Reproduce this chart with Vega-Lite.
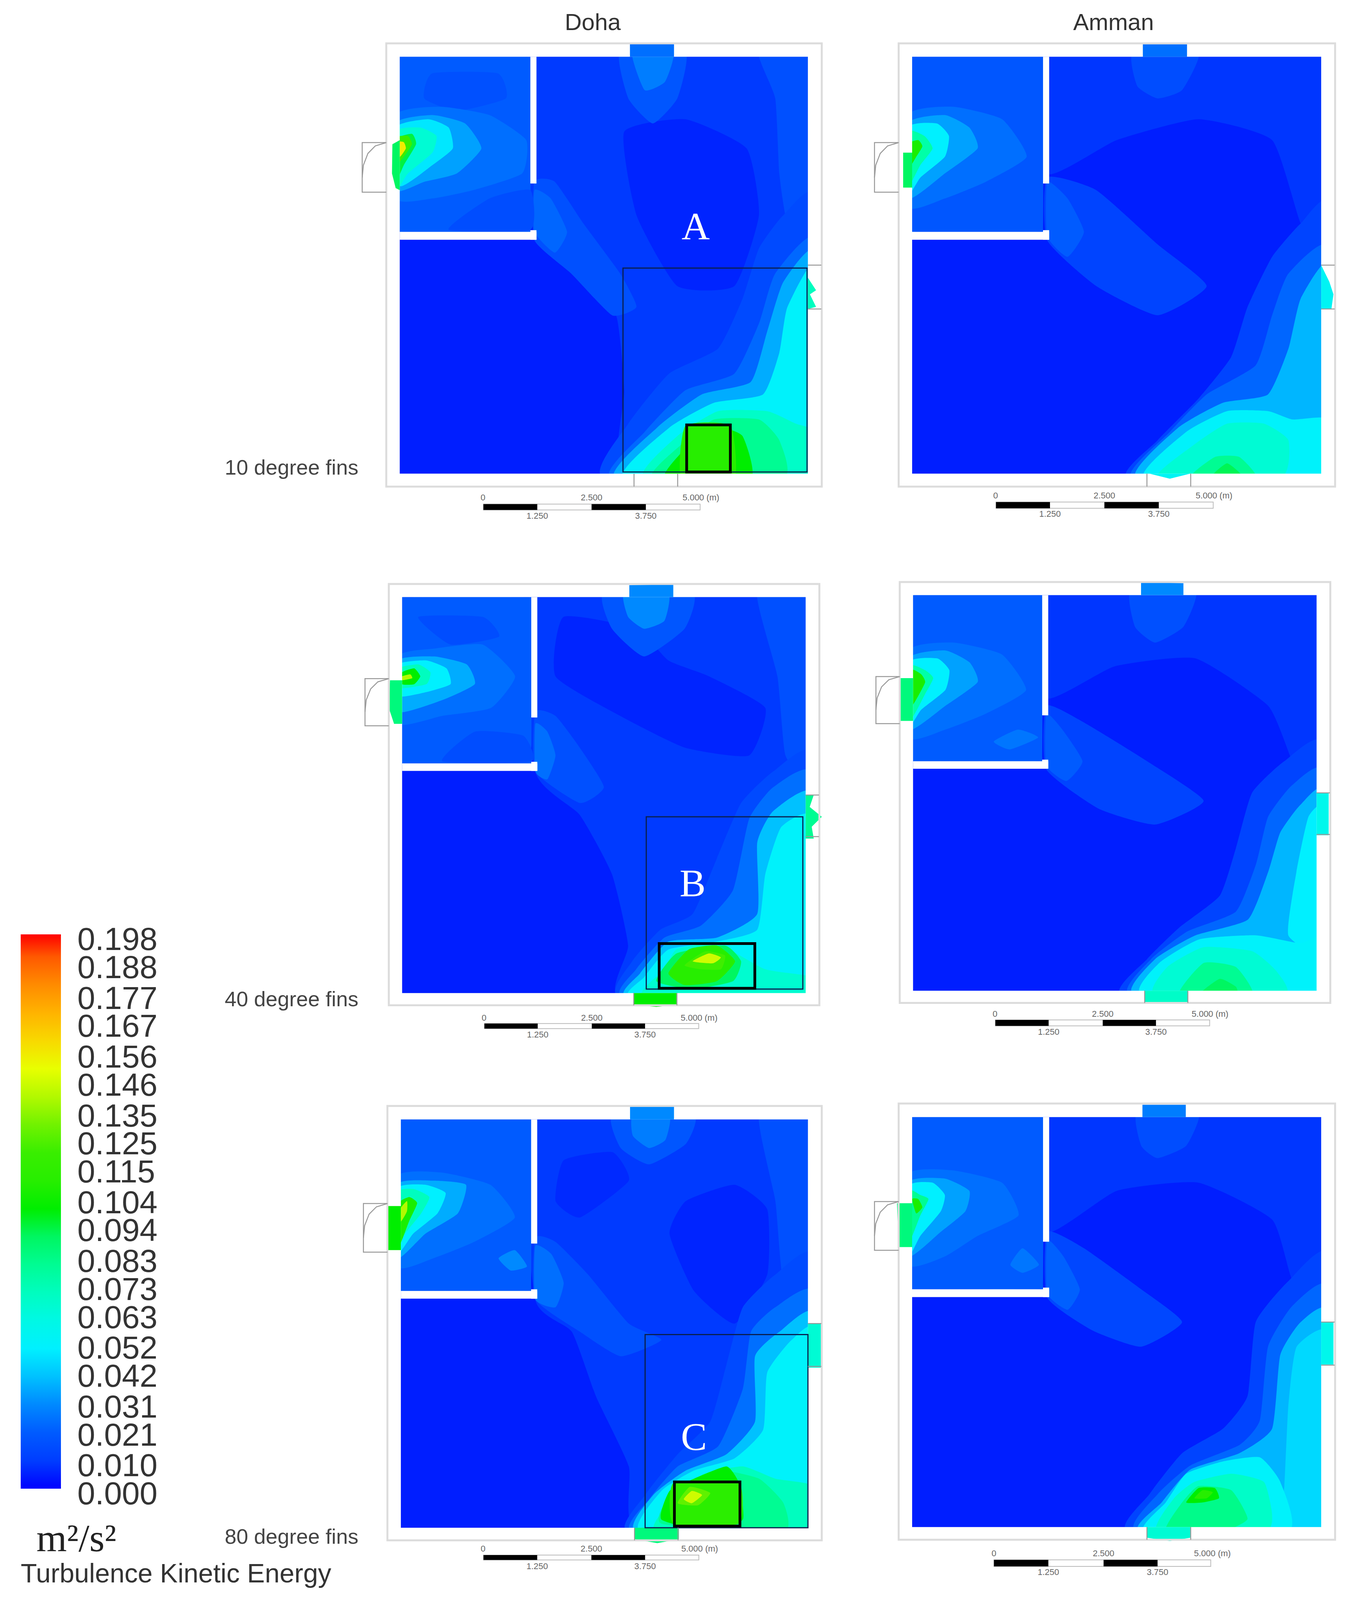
{"$schema":"https://vega.github.io/schema/vega-lite/v6.json","background":"white","padding":{"left":53,"top":28,"right":10,"bottom":10},"config":{"view":{"stroke":null},"concat":{"spacing":121}},
"datasets":{
"parts":[
{"k":"mask","x":-15,"x2":0,"y":-20,"y2":110},{"k":"mask","x":100,"x2":110,"y":-20,"y2":110},{"k":"mask","x":-15,"x2":110,"y":100,"y2":110},{"k":"mask","x":-15,"x2":110,"y":-20,"y2":0},{"k":"mask","x":32,"x2":33.5,"y":69.6,"y2":100},{"k":"mask","x":0,"x2":33.5,"y":56.1,"y2":58},{"k":"mask","x":32,"x2":33.5,"y":56.1,"y2":58.4},
{"k":"frame","x":-3.3,"x2":103.4,"y":-3.1,"y2":103.3},
{"k":"barw","p":"D1","x":20.5,"x2":73.6,"y":-7.3,"y2":-8.7},{"k":"barb","p":"D1","x":20.5,"x2":33.7,"y":-7.3,"y2":-8.7},{"k":"barb","p":"D1","x":47,"x2":60.3,"y":-7.3,"y2":-8.7},
{"k":"barw","p":"A1","x":20.5,"x2":73.6,"y":-6.8,"y2":-8.3},{"k":"barb","p":"A1","x":20.5,"x2":33.7,"y":-6.8,"y2":-8.3},{"k":"barb","p":"A1","x":47,"x2":60.3,"y":-6.8,"y2":-8.3},
{"k":"barw","p":"D2","x":20.4,"x2":73.5,"y":-7.7,"y2":-9},{"k":"barb","p":"D2","x":20.4,"x2":33.6,"y":-7.7,"y2":-9},{"k":"barb","p":"D2","x":47,"x2":60.2,"y":-7.7,"y2":-9},
{"k":"barw","p":"A2","x":20.4,"x2":73.5,"y":-7.4,"y2":-8.9},{"k":"barb","p":"A2","x":20.4,"x2":33.6,"y":-7.4,"y2":-8.9},{"k":"barb","p":"A2","x":47,"x2":60.2,"y":-7.4,"y2":-8.9},
{"k":"barw","p":"D3","x":20.3,"x2":73.2,"y":-6.7,"y2":-7.9},{"k":"barb","p":"D3","x":20.3,"x2":33.5,"y":-6.7,"y2":-7.9},{"k":"barb","p":"D3","x":46.8,"x2":60,"y":-6.7,"y2":-7.9},
{"k":"barw","p":"A3","x":20,"x2":73,"y":-8,"y2":-9.6},{"k":"barb","p":"A3","x":20,"x2":33.3,"y":-8,"y2":-9.6},{"k":"barb","p":"A3","x":46.8,"x2":60,"y":-8,"y2":-9.6},
{"k":"box","p":"D1","x":54.7,"x2":99.8,"y":0.4,"y2":49.3},{"k":"box2","p":"D1","x":70.3,"x2":81,"y":0.4,"y2":11.7},
{"k":"box","p":"D2","x":60.5,"x2":99.3,"y":1,"y2":44.5},{"k":"box2","p":"D2","x":63.7,"x2":87.4,"y":1.2,"y2":12.5},
{"k":"box","p":"D3","x":60,"x2":100,"y":0,"y2":47.3},{"k":"box2","p":"D3","x":67.2,"x2":83.3,"y":0.4,"y2":11.2}
],
"door":[
{"s":1,"i":0,"x":-3.3,"y":79.4},{"s":1,"i":1,"x":-9.2,"y":79.4},{"s":1,"i":2,"x":-9.2,"y":67.5},{"s":1,"i":3,"x":-3.3,"y":67.5},
{"s":2,"i":0,"x":-9.2,"y":71},{"s":2,"i":1,"x":-8.9,"y":74},{"s":2,"i":2,"x":-7.8,"y":76.8},{"s":2,"i":3,"x":-6,"y":78.6},{"s":2,"i":4,"x":-3.3,"y":79.4},
{"s":3,"i":0,"x":100,"y":50},{"s":3,"i":1,"x":103.3,"y":50},{"s":4,"i":0,"x":100,"y":39.5},{"s":4,"i":1,"x":103.3,"y":39.5},
{"s":5,"i":0,"x":57.4,"y":0},{"s":5,"i":1,"x":57.4,"y":-3.1},{"s":6,"i":0,"x":68.1,"y":0},{"s":6,"i":1,"x":68.1,"y":-3.1}
],
"text":[
{"p":"D1","x":20.4,"y":-5.8,"l":"0"},{"p":"D1","x":47,"y":-5.8,"l":"2.500"},{"p":"D1","x":73.8,"y":-5.8,"l":"5.000 (m)"},{"p":"D1","x":33.7,"y":-10.2,"l":"1.250"},{"p":"D1","x":60.3,"y":-10.2,"l":"3.750"},
{"p":"A1","x":20.4,"y":-5.3,"l":"0"},{"p":"A1","x":47,"y":-5.3,"l":"2.500"},{"p":"A1","x":73.8,"y":-5.3,"l":"5.000 (m)"},{"p":"A1","x":33.7,"y":-9.7,"l":"1.250"},{"p":"A1","x":60.3,"y":-9.7,"l":"3.750"},
{"p":"D2","x":20.3,"y":-6.3,"l":"0"},{"p":"D2","x":47,"y":-6.3,"l":"2.500"},{"p":"D2","x":73.6,"y":-6.3,"l":"5.000 (m)"},{"p":"D2","x":33.6,"y":-10.5,"l":"1.250"},{"p":"D2","x":60.2,"y":-10.5,"l":"3.750"},
{"p":"A2","x":20.3,"y":-5.9,"l":"0"},{"p":"A2","x":47,"y":-5.9,"l":"2.500"},{"p":"A2","x":73.6,"y":-5.9,"l":"5.000 (m)"},{"p":"A2","x":33.6,"y":-10.4,"l":"1.250"},{"p":"A2","x":60.2,"y":-10.4,"l":"3.750"},
{"p":"D3","x":20.2,"y":-5.2,"l":"0"},{"p":"D3","x":46.8,"y":-5.2,"l":"2.500"},{"p":"D3","x":73.4,"y":-5.2,"l":"5.000 (m)"},{"p":"D3","x":33.5,"y":-9.5,"l":"1.250"},{"p":"D3","x":60,"y":-9.5,"l":"3.750"},
{"p":"A3","x":20,"y":-6.5,"l":"0"},{"p":"A3","x":46.8,"y":-6.5,"l":"2.500"},{"p":"A3","x":73.4,"y":-6.5,"l":"5.000 (m)"},{"p":"A3","x":33.3,"y":-11,"l":"1.250"},{"p":"A3","x":60,"y":-11,"l":"3.750"}
],
"letters":[{"p":"D1","x":72.5,"y":59,"l":"A"},{"p":"D2","x":72,"y":27.4,"l":"B"},{"p":"D3","x":72,"y":22,"l":"C"}],
"c":[
{"p":"D1","s":101,"i":0,"t":0.003,"x":-5,"y":-5},{"p":"D1","s":101,"i":1,"t":0.003,"x":-5,"y":105},{"p":"D1","s":101,"i":2,"t":0.003,"x":105,"y":105},{"p":"D1","s":101,"i":3,"t":0.003,"x":105,"y":-5},
{"p":"D1","s":102,"i":0,"t":0.009,"x":33,"y":100},{"p":"D1","s":102,"i":1,"t":0.009,"x":101,"y":100},{"p":"D1","s":102,"i":2,"t":0.009,"x":101,"y":-1},{"p":"D1","s":102,"i":3,"t":0.009,"x":55,"y":-1},{"p":"D1","s":102,"i":4,"t":0.009,"x":55,"y":20},{"p":"D1","s":102,"i":5,"t":0.009,"x":53,"y":38},{"p":"D1","s":102,"i":6,"t":0.009,"x":44,"y":48},{"p":"D1","s":102,"i":7,"t":0.009,"x":33,"y":60},
{"p":"D1","s":103,"i":0,"t":0.004,"x":55,"y":82},{"p":"D1","s":103,"i":1,"t":0.004,"x":70,"y":85},{"p":"D1","s":103,"i":2,"t":0.004,"x":85,"y":78},{"p":"D1","s":103,"i":3,"t":0.004,"x":88,"y":62},{"p":"D1","s":103,"i":4,"t":0.004,"x":82,"y":45},{"p":"D1","s":103,"i":5,"t":0.004,"x":68,"y":45},{"p":"D1","s":103,"i":6,"t":0.004,"x":58,"y":62},
{"p":"D1","s":104,"i":0,"t":0.016,"x":88,"y":101},{"p":"D1","s":104,"i":1,"t":0.016,"x":101,"y":101},{"p":"D1","s":104,"i":2,"t":0.016,"x":101,"y":55},{"p":"D1","s":104,"i":3,"t":0.016,"x":95,"y":60},{"p":"D1","s":104,"i":4,"t":0.016,"x":93,"y":72},{"p":"D1","s":104,"i":5,"t":0.016,"x":92,"y":90},
{"p":"D1","s":105,"i":0,"t":0.018,"x":54,"y":101},{"p":"D1","s":105,"i":1,"t":0.018,"x":70,"y":101},{"p":"D1","s":105,"i":2,"t":0.018,"x":68,"y":90},{"p":"D1","s":105,"i":3,"t":0.018,"x":62,"y":84},{"p":"D1","s":105,"i":4,"t":0.018,"x":56,"y":90},
{"p":"D1","s":106,"i":0,"t":0.028,"x":57,"y":101},{"p":"D1","s":106,"i":1,"t":0.028,"x":67,"y":101},{"p":"D1","s":106,"i":2,"t":0.028,"x":65,"y":94},{"p":"D1","s":106,"i":3,"t":0.028,"x":60,"y":92},
{"p":"D1","s":107,"i":0,"t":0.016,"x":33,"y":70},{"p":"D1","s":107,"i":1,"t":0.016,"x":38,"y":70},{"p":"D1","s":107,"i":2,"t":0.016,"x":45,"y":60},{"p":"D1","s":107,"i":3,"t":0.016,"x":54,"y":48},{"p":"D1","s":107,"i":4,"t":0.016,"x":58,"y":40},{"p":"D1","s":107,"i":5,"t":0.016,"x":52,"y":38},{"p":"D1","s":107,"i":6,"t":0.016,"x":42,"y":48},{"p":"D1","s":107,"i":7,"t":0.016,"x":33,"y":56},
{"p":"D1","s":108,"i":0,"t":0.024,"x":33,"y":68},{"p":"D1","s":108,"i":1,"t":0.024,"x":37,"y":66},{"p":"D1","s":108,"i":2,"t":0.024,"x":41,"y":58},{"p":"D1","s":108,"i":3,"t":0.024,"x":38,"y":53},{"p":"D1","s":108,"i":4,"t":0.024,"x":33,"y":58},
{"p":"D1","s":109,"i":0,"t":0.014,"x":50,"y":-1},{"p":"D1","s":109,"i":1,"t":0.014,"x":56,"y":12},{"p":"D1","s":109,"i":2,"t":0.014,"x":66,"y":24},{"p":"D1","s":109,"i":3,"t":0.014,"x":78,"y":30},{"p":"D1","s":109,"i":4,"t":0.014,"x":84,"y":42},{"p":"D1","s":109,"i":5,"t":0.014,"x":88,"y":54},{"p":"D1","s":109,"i":6,"t":0.014,"x":94,"y":62},{"p":"D1","s":109,"i":7,"t":0.014,"x":102,"y":66},{"p":"D1","s":109,"i":8,"t":0.014,"x":102,"y":-1},
{"p":"D1","s":110,"i":0,"t":0.025,"x":52,"y":-1},{"p":"D1","s":110,"i":1,"t":0.025,"x":60,"y":10},{"p":"D1","s":110,"i":2,"t":0.025,"x":70,"y":20},{"p":"D1","s":110,"i":3,"t":0.025,"x":82,"y":24},{"p":"D1","s":110,"i":4,"t":0.025,"x":88,"y":36},{"p":"D1","s":110,"i":5,"t":0.025,"x":92,"y":48},{"p":"D1","s":110,"i":6,"t":0.025,"x":102,"y":56},{"p":"D1","s":110,"i":7,"t":0.025,"x":102,"y":-1},
{"p":"D1","s":111,"i":0,"t":0.036,"x":53,"y":-1},{"p":"D1","s":111,"i":1,"t":0.036,"x":63,"y":11},{"p":"D1","s":111,"i":2,"t":0.036,"x":74,"y":19},{"p":"D1","s":111,"i":3,"t":0.036,"x":86,"y":22},{"p":"D1","s":111,"i":4,"t":0.036,"x":90,"y":34},{"p":"D1","s":111,"i":5,"t":0.036,"x":94,"y":46},{"p":"D1","s":111,"i":6,"t":0.036,"x":102,"y":53},{"p":"D1","s":111,"i":7,"t":0.036,"x":102,"y":-1},
{"p":"D1","s":112,"i":0,"t":0.052,"x":55,"y":-1},{"p":"D1","s":112,"i":1,"t":0.052,"x":66,"y":11},{"p":"D1","s":112,"i":2,"t":0.052,"x":77,"y":17},{"p":"D1","s":112,"i":3,"t":0.052,"x":89,"y":19},{"p":"D1","s":112,"i":4,"t":0.052,"x":93,"y":29},{"p":"D1","s":112,"i":5,"t":0.052,"x":95,"y":40},{"p":"D1","s":112,"i":6,"t":0.052,"x":102,"y":50},{"p":"D1","s":112,"i":7,"t":0.052,"x":102,"y":-1},
{"p":"D1","s":113,"i":0,"t":0.068,"x":60,"y":-1},{"p":"D1","s":113,"i":1,"t":0.068,"x":68,"y":9},{"p":"D1","s":113,"i":2,"t":0.068,"x":78,"y":15},{"p":"D1","s":113,"i":3,"t":0.068,"x":90,"y":15},{"p":"D1","s":113,"i":4,"t":0.068,"x":97,"y":12},{"p":"D1","s":113,"i":5,"t":0.068,"x":102,"y":10},{"p":"D1","s":113,"i":6,"t":0.068,"x":102,"y":-1},
{"p":"D1","s":114,"i":0,"t":0.08,"x":62,"y":-1},{"p":"D1","s":114,"i":1,"t":0.08,"x":69,"y":7},{"p":"D1","s":114,"i":2,"t":0.08,"x":77,"y":13},{"p":"D1","s":114,"i":3,"t":0.08,"x":88,"y":13},{"p":"D1","s":114,"i":4,"t":0.08,"x":93,"y":8},{"p":"D1","s":114,"i":5,"t":0.08,"x":94,"y":-1},
{"p":"D1","s":115,"i":0,"t":0.1,"x":65,"y":-1},{"p":"D1","s":115,"i":1,"t":0.1,"x":70,"y":6},{"p":"D1","s":115,"i":2,"t":0.1,"x":78,"y":11},{"p":"D1","s":115,"i":3,"t":0.1,"x":84,"y":9},{"p":"D1","s":115,"i":4,"t":0.1,"x":86,"y":-1},
{"p":"D1","s":116,"i":0,"t":0.11,"x":69,"y":-1},{"p":"D1","s":116,"i":1,"t":0.11,"x":70,"y":11.5},{"p":"D1","s":116,"i":2,"t":0.11,"x":81,"y":11.5},{"p":"D1","s":116,"i":3,"t":0.11,"x":82,"y":-1},
{"p":"D1","s":120,"i":0,"t":0.02,"x":0,"y":58},{"p":"D1","s":120,"i":1,"t":0.02,"x":0,"y":99},{"p":"D1","s":120,"i":2,"t":0.02,"x":1,"y":100},{"p":"D1","s":120,"i":3,"t":0.02,"x":31,"y":100},{"p":"D1","s":120,"i":4,"t":0.02,"x":32,"y":99},{"p":"D1","s":120,"i":5,"t":0.02,"x":32,"y":59},{"p":"D1","s":120,"i":6,"t":0.02,"x":31,"y":58},{"p":"D1","s":120,"i":7,"t":0.02,"x":1,"y":58},
{"p":"D1","s":121,"i":0,"t":0.015,"x":12,"y":58.5},{"p":"D1","s":121,"i":1,"t":0.015,"x":32,"y":58.5},{"p":"D1","s":121,"i":2,"t":0.015,"x":32,"y":68},{"p":"D1","s":121,"i":3,"t":0.015,"x":22,"y":66},
{"p":"D1","s":122,"i":0,"t":0.016,"x":8,"y":96},{"p":"D1","s":122,"i":1,"t":0.016,"x":24,"y":96},{"p":"D1","s":122,"i":2,"t":0.016,"x":26,"y":90},{"p":"D1","s":122,"i":3,"t":0.016,"x":14,"y":87},{"p":"D1","s":122,"i":4,"t":0.016,"x":6,"y":90},
{"p":"D1","s":123,"i":0,"t":0.026,"x":-1,"y":86},{"p":"D1","s":123,"i":1,"t":0.026,"x":10,"y":88},{"p":"D1","s":123,"i":2,"t":0.026,"x":22,"y":86},{"p":"D1","s":123,"i":3,"t":0.026,"x":31,"y":80},{"p":"D1","s":123,"i":4,"t":0.026,"x":30,"y":72},{"p":"D1","s":123,"i":5,"t":0.026,"x":18,"y":68},{"p":"D1","s":123,"i":6,"t":0.026,"x":8,"y":66},{"p":"D1","s":123,"i":7,"t":0.026,"x":-1,"y":66},
{"p":"D1","s":124,"i":0,"t":0.034,"x":-1,"y":84},{"p":"D1","s":124,"i":1,"t":0.034,"x":8,"y":86},{"p":"D1","s":124,"i":2,"t":0.034,"x":16,"y":84},{"p":"D1","s":124,"i":3,"t":0.034,"x":20,"y":78},{"p":"D1","s":124,"i":4,"t":0.034,"x":14,"y":72},{"p":"D1","s":124,"i":5,"t":0.034,"x":6,"y":70},{"p":"D1","s":124,"i":6,"t":0.034,"x":-1,"y":68},
{"p":"D1","s":125,"i":0,"t":0.048,"x":-1,"y":83},{"p":"D1","s":125,"i":1,"t":0.048,"x":7,"y":85},{"p":"D1","s":125,"i":2,"t":0.048,"x":12,"y":83},{"p":"D1","s":125,"i":3,"t":0.048,"x":13,"y":78},{"p":"D1","s":125,"i":4,"t":0.048,"x":8,"y":74},{"p":"D1","s":125,"i":5,"t":0.048,"x":0,"y":69},
{"p":"D1","s":126,"i":0,"t":0.065,"x":-1,"y":82},{"p":"D1","s":126,"i":1,"t":0.065,"x":5,"y":83},{"p":"D1","s":126,"i":2,"t":0.065,"x":9,"y":81},{"p":"D1","s":126,"i":3,"t":0.065,"x":8,"y":77},{"p":"D1","s":126,"i":4,"t":0.065,"x":2,"y":72},{"p":"D1","s":126,"i":5,"t":0.065,"x":-1,"y":68},
{"p":"D1","s":127,"i":0,"t":0.095,"x":-1,"y":80},{"p":"D1","s":127,"i":1,"t":0.095,"x":3,"y":81.5},{"p":"D1","s":127,"i":2,"t":0.095,"x":4,"y":79},{"p":"D1","s":127,"i":3,"t":0.095,"x":1,"y":74},{"p":"D1","s":127,"i":4,"t":0.095,"x":-1,"y":70},
{"p":"D1","s":128,"i":0,"t":0.12,"x":-1,"y":80.5},{"p":"D1","s":128,"i":1,"t":0.12,"x":2,"y":81},{"p":"D1","s":128,"i":2,"t":0.12,"x":3,"y":79},{"p":"D1","s":128,"i":3,"t":0.12,"x":1,"y":76},{"p":"D1","s":128,"i":4,"t":0.12,"x":-1,"y":74},
{"p":"D1","s":129,"i":0,"t":0.155,"x":-0.5,"y":79.5},{"p":"D1","s":129,"i":1,"t":0.155,"x":1,"y":79.5},{"p":"D1","s":129,"i":2,"t":0.155,"x":1.5,"y":78},{"p":"D1","s":129,"i":3,"t":0.155,"x":0,"y":76},
{"p":"D1v","s":191,"i":0,"t":0.026,"x":56.4,"y":100},{"p":"D1v","s":191,"i":1,"t":0.026,"x":56.4,"y":103.2},{"p":"D1v","s":191,"i":2,"t":0.026,"x":67.2,"y":103.2},{"p":"D1v","s":191,"i":3,"t":0.026,"x":67.2,"y":100},
{"p":"D1v","s":192,"i":0,"t":0.07,"x":100,"y":47},{"p":"D1v","s":192,"i":1,"t":0.07,"x":102,"y":44},{"p":"D1v","s":192,"i":2,"t":0.07,"x":100.5,"y":43},{"p":"D1v","s":192,"i":3,"t":0.07,"x":102,"y":40},{"p":"D1v","s":192,"i":4,"t":0.07,"x":100,"y":39.5},
{"p":"D1v","s":193,"i":0,"t":0.09,"x":-1.8,"y":79},{"p":"D1v","s":193,"i":1,"t":0.09,"x":0,"y":80},{"p":"D1v","s":193,"i":2,"t":0.09,"x":0,"y":68},{"p":"D1v","s":193,"i":3,"t":0.09,"x":-1,"y":68.5},{"p":"D1v","s":193,"i":4,"t":0.09,"x":-1.9,"y":72},

{"p":"A1","s":201,"i":0,"t":0.003,"x":-5,"y":-5},{"p":"A1","s":201,"i":1,"t":0.003,"x":-5,"y":105},{"p":"A1","s":201,"i":2,"t":0.003,"x":105,"y":105},{"p":"A1","s":201,"i":3,"t":0.003,"x":105,"y":-5},
{"p":"A1","s":202,"i":0,"t":0.008,"x":33,"y":100},{"p":"A1","s":202,"i":1,"t":0.008,"x":101,"y":100},{"p":"A1","s":202,"i":2,"t":0.008,"x":101,"y":55},{"p":"A1","s":202,"i":3,"t":0.008,"x":95,"y":60},{"p":"A1","s":202,"i":4,"t":0.008,"x":88,"y":80},{"p":"A1","s":202,"i":5,"t":0.008,"x":70,"y":85},{"p":"A1","s":202,"i":6,"t":0.008,"x":50,"y":80},{"p":"A1","s":202,"i":7,"t":0.008,"x":33,"y":72},
{"p":"A1","s":203,"i":0,"t":0.012,"x":33,"y":71},{"p":"A1","s":203,"i":1,"t":0.012,"x":45,"y":68},{"p":"A1","s":203,"i":2,"t":0.012,"x":60,"y":55},{"p":"A1","s":203,"i":3,"t":0.012,"x":72,"y":45},{"p":"A1","s":203,"i":4,"t":0.012,"x":60,"y":38},{"p":"A1","s":203,"i":5,"t":0.012,"x":45,"y":45},{"p":"A1","s":203,"i":6,"t":0.012,"x":33,"y":56},
{"p":"A1","s":204,"i":0,"t":0.02,"x":33,"y":70},{"p":"A1","s":204,"i":1,"t":0.02,"x":38,"y":66},{"p":"A1","s":204,"i":2,"t":0.02,"x":42,"y":58},{"p":"A1","s":204,"i":3,"t":0.02,"x":38,"y":52},{"p":"A1","s":204,"i":4,"t":0.02,"x":33,"y":57},
{"p":"A1","s":205,"i":0,"t":0.015,"x":54,"y":101},{"p":"A1","s":205,"i":1,"t":0.015,"x":70,"y":101},{"p":"A1","s":205,"i":2,"t":0.015,"x":66,"y":92},{"p":"A1","s":205,"i":3,"t":0.015,"x":60,"y":90},{"p":"A1","s":205,"i":4,"t":0.015,"x":55,"y":93},
{"p":"A1","s":206,"i":0,"t":0.012,"x":53,"y":-1},{"p":"A1","s":206,"i":1,"t":0.012,"x":60,"y":8},{"p":"A1","s":206,"i":2,"t":0.012,"x":70,"y":18},{"p":"A1","s":206,"i":3,"t":0.012,"x":78,"y":28},{"p":"A1","s":206,"i":4,"t":0.012,"x":82,"y":40},{"p":"A1","s":206,"i":5,"t":0.012,"x":88,"y":52},{"p":"A1","s":206,"i":6,"t":0.012,"x":95,"y":60},{"p":"A1","s":206,"i":7,"t":0.012,"x":102,"y":64},{"p":"A1","s":206,"i":8,"t":0.012,"x":102,"y":-1},
{"p":"A1","s":207,"i":0,"t":0.024,"x":54,"y":-1},{"p":"A1","s":207,"i":1,"t":0.024,"x":63,"y":10},{"p":"A1","s":207,"i":2,"t":0.024,"x":72,"y":19},{"p":"A1","s":207,"i":3,"t":0.024,"x":84,"y":26},{"p":"A1","s":207,"i":4,"t":0.024,"x":88,"y":38},{"p":"A1","s":207,"i":5,"t":0.024,"x":92,"y":48},{"p":"A1","s":207,"i":6,"t":0.024,"x":102,"y":54},{"p":"A1","s":207,"i":7,"t":0.024,"x":102,"y":-1},
{"p":"A1","s":208,"i":0,"t":0.038,"x":55,"y":-1},{"p":"A1","s":208,"i":1,"t":0.038,"x":65,"y":11},{"p":"A1","s":208,"i":2,"t":0.038,"x":76,"y":17},{"p":"A1","s":208,"i":3,"t":0.038,"x":87,"y":19},{"p":"A1","s":208,"i":4,"t":0.038,"x":92,"y":30},{"p":"A1","s":208,"i":5,"t":0.038,"x":95,"y":42},{"p":"A1","s":208,"i":6,"t":0.038,"x":102,"y":50},{"p":"A1","s":208,"i":7,"t":0.038,"x":102,"y":-1},
{"p":"A1","s":209,"i":0,"t":0.052,"x":57,"y":-1},{"p":"A1","s":209,"i":1,"t":0.052,"x":67,"y":10},{"p":"A1","s":209,"i":2,"t":0.052,"x":77,"y":15},{"p":"A1","s":209,"i":3,"t":0.052,"x":87,"y":15},{"p":"A1","s":209,"i":4,"t":0.052,"x":93,"y":13},{"p":"A1","s":209,"i":5,"t":0.052,"x":102,"y":13},{"p":"A1","s":209,"i":6,"t":0.052,"x":102,"y":-1},
{"p":"A1","s":210,"i":0,"t":0.065,"x":60,"y":-1},{"p":"A1","s":210,"i":1,"t":0.065,"x":69,"y":7},{"p":"A1","s":210,"i":2,"t":0.065,"x":77,"y":12},{"p":"A1","s":210,"i":3,"t":0.065,"x":86,"y":12},{"p":"A1","s":210,"i":4,"t":0.065,"x":92,"y":8},{"p":"A1","s":210,"i":5,"t":0.065,"x":90,"y":-1},
{"p":"A1","s":211,"i":0,"t":0.08,"x":68,"y":-1},{"p":"A1","s":211,"i":1,"t":0.08,"x":74,"y":4},{"p":"A1","s":211,"i":2,"t":0.08,"x":80,"y":4},{"p":"A1","s":211,"i":3,"t":0.08,"x":84,"y":-1},
{"p":"A1","s":212,"i":0,"t":0.092,"x":73,"y":-1},{"p":"A1","s":212,"i":1,"t":0.092,"x":77,"y":2.5},{"p":"A1","s":212,"i":2,"t":0.092,"x":81,"y":-1},
{"p":"A1","s":220,"i":0,"t":0.018,"x":0,"y":58},{"p":"A1","s":220,"i":1,"t":0.018,"x":0,"y":99},{"p":"A1","s":220,"i":2,"t":0.018,"x":1,"y":100},{"p":"A1","s":220,"i":3,"t":0.018,"x":31,"y":100},{"p":"A1","s":220,"i":4,"t":0.018,"x":32,"y":99},{"p":"A1","s":220,"i":5,"t":0.018,"x":32,"y":59},{"p":"A1","s":220,"i":6,"t":0.018,"x":31,"y":58},{"p":"A1","s":220,"i":7,"t":0.018,"x":1,"y":58},
{"p":"A1","s":221,"i":0,"t":0.026,"x":-1,"y":86},{"p":"A1","s":221,"i":1,"t":0.026,"x":10,"y":88},{"p":"A1","s":221,"i":2,"t":0.026,"x":22,"y":85},{"p":"A1","s":221,"i":3,"t":0.026,"x":28,"y":76},{"p":"A1","s":221,"i":4,"t":0.026,"x":18,"y":70},{"p":"A1","s":221,"i":5,"t":0.026,"x":8,"y":66},{"p":"A1","s":221,"i":6,"t":0.026,"x":-1,"y":64},
{"p":"A1","s":222,"i":0,"t":0.034,"x":-1,"y":84},{"p":"A1","s":222,"i":1,"t":0.034,"x":8,"y":86},{"p":"A1","s":222,"i":2,"t":0.034,"x":14,"y":83},{"p":"A1","s":222,"i":3,"t":0.034,"x":16,"y":78},{"p":"A1","s":222,"i":4,"t":0.034,"x":8,"y":72},{"p":"A1","s":222,"i":5,"t":0.034,"x":-1,"y":66},
{"p":"A1","s":223,"i":0,"t":0.05,"x":-1,"y":83},{"p":"A1","s":223,"i":1,"t":0.05,"x":6,"y":84},{"p":"A1","s":223,"i":2,"t":0.05,"x":9,"y":81},{"p":"A1","s":223,"i":3,"t":0.05,"x":8,"y":76},{"p":"A1","s":223,"i":4,"t":0.05,"x":2,"y":71},{"p":"A1","s":223,"i":5,"t":0.05,"x":-1,"y":67},
{"p":"A1","s":224,"i":0,"t":0.075,"x":-1,"y":82},{"p":"A1","s":224,"i":1,"t":0.075,"x":3,"y":81},{"p":"A1","s":224,"i":2,"t":0.075,"x":5,"y":78},{"p":"A1","s":224,"i":3,"t":0.075,"x":2,"y":74},{"p":"A1","s":224,"i":4,"t":0.075,"x":-1,"y":69},
{"p":"A1","s":225,"i":0,"t":0.105,"x":-1,"y":79},{"p":"A1","s":225,"i":1,"t":0.105,"x":1.5,"y":80},{"p":"A1","s":225,"i":2,"t":0.105,"x":2.5,"y":78.5},{"p":"A1","s":225,"i":3,"t":0.105,"x":1,"y":76},{"p":"A1","s":225,"i":4,"t":0.105,"x":-1,"y":73},
{"p":"A1v","s":291,"i":0,"t":0.026,"x":56.4,"y":100},{"p":"A1v","s":291,"i":1,"t":0.026,"x":56.4,"y":103},{"p":"A1v","s":291,"i":2,"t":0.026,"x":67.2,"y":103},{"p":"A1v","s":291,"i":3,"t":0.026,"x":67.2,"y":100},
{"p":"A1v","s":292,"i":0,"t":0.055,"x":100,"y":50},{"p":"A1v","s":292,"i":1,"t":0.055,"x":102,"y":46},{"p":"A1v","s":292,"i":2,"t":0.055,"x":103,"y":43},{"p":"A1v","s":292,"i":3,"t":0.055,"x":102.5,"y":39.5},{"p":"A1v","s":292,"i":4,"t":0.055,"x":100,"y":39.5},
{"p":"A1v","s":293,"i":0,"t":0.055,"x":58,"y":0},{"p":"A1v","s":293,"i":1,"t":0.055,"x":63,"y":-1.2},{"p":"A1v","s":293,"i":2,"t":0.055,"x":68,"y":0},
{"p":"A1v","s":294,"i":0,"t":0.09,"x":-2.2,"y":77},{"p":"A1v","s":294,"i":1,"t":0.09,"x":0,"y":77},{"p":"A1v","s":294,"i":2,"t":0.09,"x":0,"y":68.6},{"p":"A1v","s":294,"i":3,"t":0.09,"x":-2.2,"y":68.6},

{"p":"D2","s":301,"i":0,"t":0.003,"x":-5,"y":-5},{"p":"D2","s":301,"i":1,"t":0.003,"x":-5,"y":105},{"p":"D2","s":301,"i":2,"t":0.003,"x":105,"y":105},{"p":"D2","s":301,"i":3,"t":0.003,"x":105,"y":-5},
{"p":"D2","s":302,"i":0,"t":0.009,"x":33,"y":100},{"p":"D2","s":302,"i":1,"t":0.009,"x":101,"y":100},{"p":"D2","s":302,"i":2,"t":0.009,"x":101,"y":-1},{"p":"D2","s":302,"i":3,"t":0.009,"x":54,"y":-1},{"p":"D2","s":302,"i":4,"t":0.009,"x":56,"y":12},{"p":"D2","s":302,"i":5,"t":0.009,"x":52,"y":30},{"p":"D2","s":302,"i":6,"t":0.009,"x":44,"y":45},{"p":"D2","s":302,"i":7,"t":0.009,"x":33,"y":56},
{"p":"D2","s":303,"i":0,"t":0.004,"x":40,"y":95},{"p":"D2","s":303,"i":1,"t":0.004,"x":58,"y":92},{"p":"D2","s":303,"i":2,"t":0.004,"x":66,"y":84},{"p":"D2","s":303,"i":3,"t":0.004,"x":76,"y":80},{"p":"D2","s":303,"i":4,"t":0.004,"x":90,"y":72},{"p":"D2","s":303,"i":5,"t":0.004,"x":86,"y":60},{"p":"D2","s":303,"i":6,"t":0.004,"x":70,"y":62},{"p":"D2","s":303,"i":7,"t":0.004,"x":54,"y":70},{"p":"D2","s":303,"i":8,"t":0.004,"x":38,"y":80},
{"p":"D2","s":304,"i":0,"t":0.016,"x":33,"y":71},{"p":"D2","s":304,"i":1,"t":0.016,"x":38,"y":70},{"p":"D2","s":304,"i":2,"t":0.016,"x":44,"y":62},{"p":"D2","s":304,"i":3,"t":0.016,"x":50,"y":52},{"p":"D2","s":304,"i":4,"t":0.016,"x":44,"y":48},{"p":"D2","s":304,"i":5,"t":0.016,"x":33,"y":56},
{"p":"D2","s":305,"i":0,"t":0.026,"x":33,"y":68},{"p":"D2","s":305,"i":1,"t":0.026,"x":36,"y":66},{"p":"D2","s":305,"i":2,"t":0.026,"x":38,"y":60},{"p":"D2","s":305,"i":3,"t":0.026,"x":36,"y":54},{"p":"D2","s":305,"i":4,"t":0.026,"x":33,"y":56},
{"p":"D2","s":306,"i":0,"t":0.018,"x":50,"y":101},{"p":"D2","s":306,"i":1,"t":0.018,"x":72,"y":101},{"p":"D2","s":306,"i":2,"t":0.018,"x":70,"y":92},{"p":"D2","s":306,"i":3,"t":0.018,"x":60,"y":85},{"p":"D2","s":306,"i":4,"t":0.018,"x":52,"y":92},
{"p":"D2","s":307,"i":0,"t":0.03,"x":55,"y":101},{"p":"D2","s":307,"i":1,"t":0.03,"x":66,"y":101},{"p":"D2","s":307,"i":2,"t":0.03,"x":65,"y":94},{"p":"D2","s":307,"i":3,"t":0.03,"x":60,"y":92},{"p":"D2","s":307,"i":4,"t":0.03,"x":56,"y":95},
{"p":"D2","s":308,"i":0,"t":0.016,"x":88,"y":101},{"p":"D2","s":308,"i":1,"t":0.016,"x":101,"y":101},{"p":"D2","s":308,"i":2,"t":0.016,"x":101,"y":55},{"p":"D2","s":308,"i":3,"t":0.016,"x":95,"y":60},{"p":"D2","s":308,"i":4,"t":0.016,"x":93,"y":80},
{"p":"D2","s":309,"i":0,"t":0.014,"x":54,"y":-1},{"p":"D2","s":309,"i":1,"t":0.014,"x":57,"y":8},{"p":"D2","s":309,"i":2,"t":0.014,"x":64,"y":16},{"p":"D2","s":309,"i":3,"t":0.014,"x":72,"y":20},{"p":"D2","s":309,"i":4,"t":0.014,"x":78,"y":34},{"p":"D2","s":309,"i":5,"t":0.014,"x":84,"y":48},{"p":"D2","s":309,"i":6,"t":0.014,"x":92,"y":56},{"p":"D2","s":309,"i":7,"t":0.014,"x":102,"y":60},{"p":"D2","s":309,"i":8,"t":0.014,"x":102,"y":-1},
{"p":"D2","s":310,"i":0,"t":0.026,"x":55,"y":-1},{"p":"D2","s":310,"i":1,"t":0.026,"x":58,"y":6},{"p":"D2","s":310,"i":2,"t":0.026,"x":65,"y":14},{"p":"D2","s":310,"i":3,"t":0.026,"x":74,"y":17},{"p":"D2","s":310,"i":4,"t":0.026,"x":82,"y":26},{"p":"D2","s":310,"i":5,"t":0.026,"x":86,"y":44},{"p":"D2","s":310,"i":6,"t":0.026,"x":92,"y":52},{"p":"D2","s":310,"i":7,"t":0.026,"x":102,"y":55},{"p":"D2","s":310,"i":8,"t":0.026,"x":102,"y":-1},
{"p":"D2","s":311,"i":0,"t":0.04,"x":56,"y":-1},{"p":"D2","s":311,"i":1,"t":0.04,"x":59,"y":5},{"p":"D2","s":311,"i":2,"t":0.04,"x":66,"y":13},{"p":"D2","s":311,"i":3,"t":0.04,"x":78,"y":14},{"p":"D2","s":311,"i":4,"t":0.04,"x":88,"y":20},{"p":"D2","s":311,"i":5,"t":0.04,"x":88,"y":38},{"p":"D2","s":311,"i":6,"t":0.04,"x":92,"y":46},{"p":"D2","s":311,"i":7,"t":0.04,"x":102,"y":50},{"p":"D2","s":311,"i":8,"t":0.04,"x":102,"y":-1},
{"p":"D2","s":312,"i":0,"t":0.052,"x":57,"y":-1},{"p":"D2","s":312,"i":1,"t":0.052,"x":60,"y":4},{"p":"D2","s":312,"i":2,"t":0.052,"x":66,"y":11},{"p":"D2","s":312,"i":3,"t":0.052,"x":78,"y":13},{"p":"D2","s":312,"i":4,"t":0.052,"x":88,"y":16},{"p":"D2","s":312,"i":5,"t":0.052,"x":90,"y":30},{"p":"D2","s":312,"i":6,"t":0.052,"x":94,"y":42},{"p":"D2","s":312,"i":7,"t":0.052,"x":102,"y":44},{"p":"D2","s":312,"i":8,"t":0.052,"x":102,"y":-1},
{"p":"D2","s":313,"i":0,"t":0.066,"x":60,"y":-1},{"p":"D2","s":313,"i":1,"t":0.066,"x":65,"y":6},{"p":"D2","s":313,"i":2,"t":0.066,"x":68,"y":11},{"p":"D2","s":313,"i":3,"t":0.066,"x":78,"y":12.5},{"p":"D2","s":313,"i":4,"t":0.066,"x":90,"y":6},{"p":"D2","s":313,"i":5,"t":0.066,"x":102,"y":4},{"p":"D2","s":313,"i":6,"t":0.066,"x":102,"y":-1},
{"p":"D2","s":314,"i":0,"t":0.09,"x":63,"y":3},{"p":"D2","s":314,"i":1,"t":0.09,"x":68,"y":10},{"p":"D2","s":314,"i":2,"t":0.09,"x":80,"y":12},{"p":"D2","s":314,"i":3,"t":0.09,"x":84,"y":8},{"p":"D2","s":314,"i":4,"t":0.09,"x":82,"y":3},{"p":"D2","s":314,"i":5,"t":0.09,"x":72,"y":1},
{"p":"D2","s":315,"i":0,"t":0.11,"x":66,"y":5},{"p":"D2","s":315,"i":1,"t":0.11,"x":71,"y":11},{"p":"D2","s":315,"i":2,"t":0.11,"x":78,"y":12},{"p":"D2","s":315,"i":3,"t":0.11,"x":82.5,"y":8},{"p":"D2","s":315,"i":4,"t":0.11,"x":78,"y":3},{"p":"D2","s":315,"i":5,"t":0.11,"x":70,"y":2},
{"p":"D2","s":316,"i":0,"t":0.125,"x":70,"y":7},{"p":"D2","s":316,"i":1,"t":0.125,"x":75,"y":10.5},{"p":"D2","s":316,"i":2,"t":0.125,"x":80,"y":9.5},{"p":"D2","s":316,"i":3,"t":0.125,"x":79,"y":6},{"p":"D2","s":316,"i":4,"t":0.125,"x":74,"y":6},
{"p":"D2","s":317,"i":0,"t":0.145,"x":72,"y":8},{"p":"D2","s":317,"i":1,"t":0.145,"x":76,"y":10},{"p":"D2","s":317,"i":2,"t":0.145,"x":79,"y":9},{"p":"D2","s":317,"i":3,"t":0.145,"x":77,"y":7.5},
{"p":"D2","s":320,"i":0,"t":0.02,"x":0,"y":58},{"p":"D2","s":320,"i":1,"t":0.02,"x":0,"y":99},{"p":"D2","s":320,"i":2,"t":0.02,"x":1,"y":100},{"p":"D2","s":320,"i":3,"t":0.02,"x":31,"y":100},{"p":"D2","s":320,"i":4,"t":0.02,"x":32,"y":99},{"p":"D2","s":320,"i":5,"t":0.02,"x":32,"y":59},{"p":"D2","s":320,"i":6,"t":0.02,"x":31,"y":58},{"p":"D2","s":320,"i":7,"t":0.02,"x":1,"y":58},
{"p":"D2","s":321,"i":0,"t":0.015,"x":10,"y":58.5},{"p":"D2","s":321,"i":1,"t":0.015,"x":32,"y":58.5},{"p":"D2","s":321,"i":2,"t":0.015,"x":30,"y":65},{"p":"D2","s":321,"i":3,"t":0.015,"x":18,"y":66},
{"p":"D2","s":322,"i":0,"t":0.015,"x":4,"y":95},{"p":"D2","s":322,"i":1,"t":0.015,"x":20,"y":95},{"p":"D2","s":322,"i":2,"t":0.015,"x":24,"y":90},{"p":"D2","s":322,"i":3,"t":0.015,"x":12,"y":88},
{"p":"D2","s":323,"i":0,"t":0.026,"x":-1,"y":85},{"p":"D2","s":323,"i":1,"t":0.026,"x":8,"y":87},{"p":"D2","s":323,"i":2,"t":0.026,"x":20,"y":88},{"p":"D2","s":323,"i":3,"t":0.026,"x":28,"y":80},{"p":"D2","s":323,"i":4,"t":0.026,"x":22,"y":72},{"p":"D2","s":323,"i":5,"t":0.026,"x":10,"y":70},{"p":"D2","s":323,"i":6,"t":0.026,"x":-1,"y":68},
{"p":"D2","s":324,"i":0,"t":0.036,"x":-1,"y":84},{"p":"D2","s":324,"i":1,"t":0.036,"x":8,"y":85},{"p":"D2","s":324,"i":2,"t":0.036,"x":16,"y":83},{"p":"D2","s":324,"i":3,"t":0.036,"x":18,"y":78},{"p":"D2","s":324,"i":4,"t":0.036,"x":10,"y":74},{"p":"D2","s":324,"i":5,"t":0.036,"x":-1,"y":71},
{"p":"D2","s":325,"i":0,"t":0.05,"x":-1,"y":83},{"p":"D2","s":325,"i":1,"t":0.05,"x":6,"y":84},{"p":"D2","s":325,"i":2,"t":0.05,"x":11,"y":82},{"p":"D2","s":325,"i":3,"t":0.05,"x":12,"y":78},{"p":"D2","s":325,"i":4,"t":0.05,"x":6,"y":76},{"p":"D2","s":325,"i":5,"t":0.05,"x":-1,"y":75},
{"p":"D2","s":326,"i":0,"t":0.07,"x":-1,"y":82},{"p":"D2","s":326,"i":1,"t":0.07,"x":4,"y":83},{"p":"D2","s":326,"i":2,"t":0.07,"x":7,"y":81},{"p":"D2","s":326,"i":3,"t":0.07,"x":6,"y":78},{"p":"D2","s":326,"i":4,"t":0.07,"x":-1,"y":77},
{"p":"D2","s":327,"i":0,"t":0.1,"x":0,"y":81},{"p":"D2","s":327,"i":1,"t":0.1,"x":3,"y":82},{"p":"D2","s":327,"i":2,"t":0.1,"x":4.5,"y":80},{"p":"D2","s":327,"i":3,"t":0.1,"x":3,"y":78},{"p":"D2","s":327,"i":4,"t":0.1,"x":0,"y":78},
{"p":"D2","s":328,"i":0,"t":0.14,"x":0,"y":80},{"p":"D2","s":328,"i":1,"t":0.14,"x":2,"y":80.5},{"p":"D2","s":328,"i":2,"t":0.14,"x":2.5,"y":79.5},{"p":"D2","s":328,"i":3,"t":0.14,"x":0,"y":79},
{"p":"D2v","s":391,"i":0,"t":0.03,"x":56.3,"y":100},{"p":"D2v","s":391,"i":1,"t":0.03,"x":56.3,"y":103},{"p":"D2v","s":391,"i":2,"t":0.03,"x":67.2,"y":103.2},{"p":"D2v","s":391,"i":3,"t":0.03,"x":67.2,"y":100},
{"p":"D2v","s":392,"i":0,"t":0.1,"x":57.4,"y":0},{"p":"D2v","s":392,"i":1,"t":0.1,"x":68,"y":0},{"p":"D2v","s":392,"i":2,"t":0.1,"x":68,"y":-3},{"p":"D2v","s":392,"i":3,"t":0.1,"x":63,"y":-3.5},{"p":"D2v","s":392,"i":4,"t":0.1,"x":57.4,"y":-3},
{"p":"D2v","s":393,"i":0,"t":0.085,"x":0,"y":79},{"p":"D2v","s":393,"i":1,"t":0.085,"x":-3,"y":79},{"p":"D2v","s":393,"i":2,"t":0.085,"x":-3.3,"y":72},{"p":"D2v","s":393,"i":3,"t":0.085,"x":-2,"y":68},{"p":"D2v","s":393,"i":4,"t":0.085,"x":0,"y":68},
{"p":"D2v","s":394,"i":0,"t":0.08,"x":100,"y":50},{"p":"D2v","s":394,"i":1,"t":0.08,"x":102,"y":50},{"p":"D2v","s":394,"i":2,"t":0.08,"x":101,"y":47},{"p":"D2v","s":394,"i":3,"t":0.08,"x":104,"y":44.5},{"p":"D2v","s":394,"i":4,"t":0.08,"x":101.5,"y":42},{"p":"D2v","s":394,"i":5,"t":0.08,"x":102,"y":39},{"p":"D2v","s":394,"i":6,"t":0.08,"x":100,"y":39},

{"p":"A2","s":401,"i":0,"t":0.003,"x":-5,"y":-5},{"p":"A2","s":401,"i":1,"t":0.003,"x":-5,"y":105},{"p":"A2","s":401,"i":2,"t":0.003,"x":105,"y":105},{"p":"A2","s":401,"i":3,"t":0.003,"x":105,"y":-5},
{"p":"A2","s":402,"i":0,"t":0.008,"x":33,"y":100},{"p":"A2","s":402,"i":1,"t":0.008,"x":100,"y":100},{"p":"A2","s":402,"i":2,"t":0.008,"x":101,"y":45},{"p":"A2","s":402,"i":3,"t":0.008,"x":94,"y":58},{"p":"A2","s":402,"i":4,"t":0.008,"x":88,"y":72},{"p":"A2","s":402,"i":5,"t":0.008,"x":70,"y":84},{"p":"A2","s":402,"i":6,"t":0.008,"x":50,"y":82},{"p":"A2","s":402,"i":7,"t":0.008,"x":33,"y":74},
{"p":"A2","s":403,"i":0,"t":0.012,"x":33,"y":72},{"p":"A2","s":403,"i":1,"t":0.012,"x":42,"y":68},{"p":"A2","s":403,"i":2,"t":0.012,"x":58,"y":58},{"p":"A2","s":403,"i":3,"t":0.012,"x":72,"y":48},{"p":"A2","s":403,"i":4,"t":0.012,"x":60,"y":42},{"p":"A2","s":403,"i":5,"t":0.012,"x":46,"y":46},{"p":"A2","s":403,"i":6,"t":0.012,"x":33,"y":56},
{"p":"A2","s":404,"i":0,"t":0.02,"x":33,"y":70},{"p":"A2","s":404,"i":1,"t":0.02,"x":37,"y":66},{"p":"A2","s":404,"i":2,"t":0.02,"x":42,"y":58},{"p":"A2","s":404,"i":3,"t":0.02,"x":38,"y":53},{"p":"A2","s":404,"i":4,"t":0.02,"x":33,"y":57},
{"p":"A2","s":405,"i":0,"t":0.016,"x":54,"y":101},{"p":"A2","s":405,"i":1,"t":0.016,"x":70,"y":101},{"p":"A2","s":405,"i":2,"t":0.016,"x":67,"y":92},{"p":"A2","s":405,"i":3,"t":0.016,"x":60,"y":88},{"p":"A2","s":405,"i":4,"t":0.016,"x":55,"y":92},
{"p":"A2","s":406,"i":0,"t":0.012,"x":52,"y":-1},{"p":"A2","s":406,"i":1,"t":0.012,"x":58,"y":8},{"p":"A2","s":406,"i":2,"t":0.012,"x":66,"y":16},{"p":"A2","s":406,"i":3,"t":0.012,"x":76,"y":24},{"p":"A2","s":406,"i":4,"t":0.012,"x":80,"y":36},{"p":"A2","s":406,"i":5,"t":0.012,"x":84,"y":50},{"p":"A2","s":406,"i":6,"t":0.012,"x":92,"y":58},{"p":"A2","s":406,"i":7,"t":0.012,"x":102,"y":62},{"p":"A2","s":406,"i":8,"t":0.012,"x":102,"y":-1},
{"p":"A2","s":407,"i":0,"t":0.024,"x":54,"y":-1},{"p":"A2","s":407,"i":1,"t":0.024,"x":59,"y":8},{"p":"A2","s":407,"i":2,"t":0.024,"x":68,"y":15},{"p":"A2","s":407,"i":3,"t":0.024,"x":80,"y":20},{"p":"A2","s":407,"i":4,"t":0.024,"x":85,"y":32},{"p":"A2","s":407,"i":5,"t":0.024,"x":88,"y":44},{"p":"A2","s":407,"i":6,"t":0.024,"x":94,"y":52},{"p":"A2","s":407,"i":7,"t":0.024,"x":102,"y":55},{"p":"A2","s":407,"i":8,"t":0.024,"x":102,"y":-1},
{"p":"A2","s":408,"i":0,"t":0.038,"x":55,"y":-1},{"p":"A2","s":408,"i":1,"t":0.038,"x":60,"y":8},{"p":"A2","s":408,"i":2,"t":0.038,"x":70,"y":14},{"p":"A2","s":408,"i":3,"t":0.038,"x":83,"y":18},{"p":"A2","s":408,"i":4,"t":0.038,"x":88,"y":30},{"p":"A2","s":408,"i":5,"t":0.038,"x":91,"y":40},{"p":"A2","s":408,"i":6,"t":0.038,"x":96,"y":47},{"p":"A2","s":408,"i":7,"t":0.038,"x":102,"y":50},{"p":"A2","s":408,"i":8,"t":0.038,"x":102,"y":-1},
{"p":"A2","s":409,"i":0,"t":0.05,"x":93,"y":14},{"p":"A2","s":409,"i":1,"t":0.05,"x":95,"y":30},{"p":"A2","s":409,"i":2,"t":0.05,"x":98,"y":44},{"p":"A2","s":409,"i":3,"t":0.05,"x":102,"y":46},{"p":"A2","s":409,"i":4,"t":0.05,"x":102,"y":10},
{"p":"A2","s":410,"i":0,"t":0.052,"x":57,"y":-1},{"p":"A2","s":410,"i":1,"t":0.052,"x":61,"y":7},{"p":"A2","s":410,"i":2,"t":0.052,"x":71,"y":13},{"p":"A2","s":410,"i":3,"t":0.052,"x":85,"y":14},{"p":"A2","s":410,"i":4,"t":0.052,"x":96,"y":12},{"p":"A2","s":410,"i":5,"t":0.052,"x":102,"y":14},{"p":"A2","s":410,"i":6,"t":0.052,"x":102,"y":-1},
{"p":"A2","s":411,"i":0,"t":0.065,"x":60,"y":-1},{"p":"A2","s":411,"i":1,"t":0.065,"x":63,"y":6},{"p":"A2","s":411,"i":2,"t":0.065,"x":72,"y":11},{"p":"A2","s":411,"i":3,"t":0.065,"x":84,"y":10},{"p":"A2","s":411,"i":4,"t":0.065,"x":90,"y":5},{"p":"A2","s":411,"i":5,"t":0.065,"x":92,"y":-1},
{"p":"A2","s":412,"i":0,"t":0.08,"x":66,"y":-1},{"p":"A2","s":412,"i":1,"t":0.08,"x":72,"y":7},{"p":"A2","s":412,"i":2,"t":0.08,"x":80,"y":6},{"p":"A2","s":412,"i":3,"t":0.08,"x":84,"y":-1},
{"p":"A2","s":413,"i":0,"t":0.09,"x":71,"y":-1},{"p":"A2","s":413,"i":1,"t":0.09,"x":76,"y":3},{"p":"A2","s":413,"i":2,"t":0.09,"x":80,"y":1},{"p":"A2","s":413,"i":3,"t":0.09,"x":80,"y":-1},
{"p":"A2","s":420,"i":0,"t":0.02,"x":0,"y":58},{"p":"A2","s":420,"i":1,"t":0.02,"x":0,"y":99},{"p":"A2","s":420,"i":2,"t":0.02,"x":1,"y":100},{"p":"A2","s":420,"i":3,"t":0.02,"x":31,"y":100},{"p":"A2","s":420,"i":4,"t":0.02,"x":32,"y":99},{"p":"A2","s":420,"i":5,"t":0.02,"x":32,"y":59},{"p":"A2","s":420,"i":6,"t":0.02,"x":31,"y":58},{"p":"A2","s":420,"i":7,"t":0.02,"x":1,"y":58},
{"p":"A2","s":421,"i":0,"t":0.027,"x":20,"y":63},{"p":"A2","s":421,"i":1,"t":0.027,"x":26,"y":66},{"p":"A2","s":421,"i":2,"t":0.027,"x":31,"y":64},{"p":"A2","s":421,"i":3,"t":0.027,"x":24,"y":61},
{"p":"A2","s":422,"i":0,"t":0.026,"x":-1,"y":86},{"p":"A2","s":422,"i":1,"t":0.026,"x":10,"y":88},{"p":"A2","s":422,"i":2,"t":0.026,"x":22,"y":85},{"p":"A2","s":422,"i":3,"t":0.026,"x":28,"y":76},{"p":"A2","s":422,"i":4,"t":0.026,"x":18,"y":70},{"p":"A2","s":422,"i":5,"t":0.026,"x":8,"y":66},{"p":"A2","s":422,"i":6,"t":0.026,"x":-1,"y":64},
{"p":"A2","s":423,"i":0,"t":0.034,"x":-1,"y":84},{"p":"A2","s":423,"i":1,"t":0.034,"x":8,"y":86},{"p":"A2","s":423,"i":2,"t":0.034,"x":14,"y":83},{"p":"A2","s":423,"i":3,"t":0.034,"x":16,"y":78},{"p":"A2","s":423,"i":4,"t":0.034,"x":8,"y":72},{"p":"A2","s":423,"i":5,"t":0.034,"x":-1,"y":66},
{"p":"A2","s":424,"i":0,"t":0.05,"x":-1,"y":83},{"p":"A2","s":424,"i":1,"t":0.05,"x":6,"y":84},{"p":"A2","s":424,"i":2,"t":0.05,"x":9,"y":81},{"p":"A2","s":424,"i":3,"t":0.05,"x":8,"y":76},{"p":"A2","s":424,"i":4,"t":0.05,"x":2,"y":71},{"p":"A2","s":424,"i":5,"t":0.05,"x":-1,"y":67},
{"p":"A2","s":425,"i":0,"t":0.075,"x":-1,"y":82},{"p":"A2","s":425,"i":1,"t":0.075,"x":3,"y":81},{"p":"A2","s":425,"i":2,"t":0.075,"x":5,"y":79},{"p":"A2","s":425,"i":3,"t":0.075,"x":3,"y":75},{"p":"A2","s":425,"i":4,"t":0.075,"x":-1,"y":68},
{"p":"A2","s":426,"i":0,"t":0.105,"x":-0.5,"y":81},{"p":"A2","s":426,"i":1,"t":0.105,"x":2,"y":80},{"p":"A2","s":426,"i":2,"t":0.105,"x":3,"y":78},{"p":"A2","s":426,"i":3,"t":0.105,"x":1,"y":74},{"p":"A2","s":426,"i":4,"t":0.105,"x":-0.5,"y":72},
{"p":"A2v","s":491,"i":0,"t":0.03,"x":56.5,"y":100},{"p":"A2v","s":491,"i":1,"t":0.03,"x":56.5,"y":103.3},{"p":"A2v","s":491,"i":2,"t":0.03,"x":67,"y":103},{"p":"A2v","s":491,"i":3,"t":0.03,"x":67,"y":100},
{"p":"A2v","s":492,"i":0,"t":0.068,"x":57.4,"y":0},{"p":"A2v","s":492,"i":1,"t":0.068,"x":68.1,"y":0},{"p":"A2v","s":492,"i":2,"t":0.068,"x":68.1,"y":-3.3},{"p":"A2v","s":492,"i":3,"t":0.068,"x":57.4,"y":-3.3},
{"p":"A2v","s":493,"i":0,"t":0.058,"x":100,"y":50},{"p":"A2v","s":493,"i":1,"t":0.058,"x":103,"y":50},{"p":"A2v","s":493,"i":2,"t":0.058,"x":103,"y":39.3},{"p":"A2v","s":493,"i":3,"t":0.058,"x":100,"y":39.3},
{"p":"A2v","s":494,"i":0,"t":0.085,"x":-3.3,"y":79},{"p":"A2v","s":494,"i":1,"t":0.085,"x":0,"y":79},{"p":"A2v","s":494,"i":2,"t":0.085,"x":0,"y":68.2},{"p":"A2v","s":494,"i":3,"t":0.085,"x":-3.3,"y":68.2},

{"p":"D3","s":501,"i":0,"t":0.003,"x":-5,"y":-5},{"p":"D3","s":501,"i":1,"t":0.003,"x":-5,"y":105},{"p":"D3","s":501,"i":2,"t":0.003,"x":105,"y":105},{"p":"D3","s":501,"i":3,"t":0.003,"x":105,"y":-5},
{"p":"D3","s":502,"i":0,"t":0.009,"x":33,"y":100},{"p":"D3","s":502,"i":1,"t":0.009,"x":101,"y":100},{"p":"D3","s":502,"i":2,"t":0.009,"x":101,"y":-1},{"p":"D3","s":502,"i":3,"t":0.009,"x":58,"y":-1},{"p":"D3","s":502,"i":4,"t":0.009,"x":56,"y":15},{"p":"D3","s":502,"i":5,"t":0.009,"x":48,"y":32},{"p":"D3","s":502,"i":6,"t":0.009,"x":42,"y":48},{"p":"D3","s":502,"i":7,"t":0.009,"x":33,"y":56},
{"p":"D3","s":503,"i":0,"t":0.004,"x":70,"y":80},{"p":"D3","s":503,"i":1,"t":0.004,"x":82,"y":84},{"p":"D3","s":503,"i":2,"t":0.004,"x":90,"y":78},{"p":"D3","s":503,"i":3,"t":0.004,"x":90,"y":62},{"p":"D3","s":503,"i":4,"t":0.004,"x":82,"y":50},{"p":"D3","s":503,"i":5,"t":0.004,"x":72,"y":58},{"p":"D3","s":503,"i":6,"t":0.004,"x":66,"y":72},
{"p":"D3","s":504,"i":0,"t":0.005,"x":40,"y":90},{"p":"D3","s":504,"i":1,"t":0.005,"x":52,"y":92},{"p":"D3","s":504,"i":2,"t":0.005,"x":56,"y":85},{"p":"D3","s":504,"i":3,"t":0.005,"x":44,"y":76},{"p":"D3","s":504,"i":4,"t":0.005,"x":38,"y":80},
{"p":"D3","s":505,"i":0,"t":0.016,"x":33,"y":71},{"p":"D3","s":505,"i":1,"t":0.016,"x":38,"y":70},{"p":"D3","s":505,"i":2,"t":0.016,"x":46,"y":62},{"p":"D3","s":505,"i":3,"t":0.016,"x":56,"y":50},{"p":"D3","s":505,"i":4,"t":0.016,"x":64,"y":46},{"p":"D3","s":505,"i":5,"t":0.016,"x":54,"y":42},{"p":"D3","s":505,"i":6,"t":0.016,"x":44,"y":48},{"p":"D3","s":505,"i":7,"t":0.016,"x":33,"y":56},
{"p":"D3","s":506,"i":0,"t":0.026,"x":33,"y":69},{"p":"D3","s":506,"i":1,"t":0.026,"x":37,"y":67},{"p":"D3","s":506,"i":2,"t":0.026,"x":40,"y":60},{"p":"D3","s":506,"i":3,"t":0.026,"x":38,"y":54},{"p":"D3","s":506,"i":4,"t":0.026,"x":33,"y":56},
{"p":"D3","s":507,"i":0,"t":0.018,"x":52,"y":101},{"p":"D3","s":507,"i":1,"t":0.018,"x":72,"y":101},{"p":"D3","s":507,"i":2,"t":0.018,"x":70,"y":94},{"p":"D3","s":507,"i":3,"t":0.018,"x":61,"y":89},{"p":"D3","s":507,"i":4,"t":0.018,"x":54,"y":93},
{"p":"D3","s":508,"i":0,"t":0.028,"x":57,"y":101},{"p":"D3","s":508,"i":1,"t":0.028,"x":66,"y":101},{"p":"D3","s":508,"i":2,"t":0.028,"x":65,"y":95},{"p":"D3","s":508,"i":3,"t":0.028,"x":61,"y":93},{"p":"D3","s":508,"i":4,"t":0.028,"x":57,"y":96},
{"p":"D3","s":509,"i":0,"t":0.016,"x":88,"y":101},{"p":"D3","s":509,"i":1,"t":0.016,"x":101,"y":101},{"p":"D3","s":509,"i":2,"t":0.016,"x":101,"y":55},{"p":"D3","s":509,"i":3,"t":0.016,"x":94,"y":60},{"p":"D3","s":509,"i":4,"t":0.016,"x":92,"y":80},
{"p":"D3","s":510,"i":0,"t":0.014,"x":56,"y":-1},{"p":"D3","s":510,"i":1,"t":0.014,"x":60,"y":8},{"p":"D3","s":510,"i":2,"t":0.014,"x":68,"y":18},{"p":"D3","s":510,"i":3,"t":0.014,"x":76,"y":26},{"p":"D3","s":510,"i":4,"t":0.014,"x":80,"y":40},{"p":"D3","s":510,"i":5,"t":0.014,"x":84,"y":54},{"p":"D3","s":510,"i":6,"t":0.014,"x":92,"y":62},{"p":"D3","s":510,"i":7,"t":0.014,"x":102,"y":66},{"p":"D3","s":510,"i":8,"t":0.014,"x":102,"y":-1},
{"p":"D3","s":511,"i":0,"t":0.026,"x":57,"y":-1},{"p":"D3","s":511,"i":1,"t":0.026,"x":61,"y":7},{"p":"D3","s":511,"i":2,"t":0.026,"x":68,"y":15},{"p":"D3","s":511,"i":3,"t":0.026,"x":78,"y":20},{"p":"D3","s":511,"i":4,"t":0.026,"x":84,"y":34},{"p":"D3","s":511,"i":5,"t":0.026,"x":86,"y":48},{"p":"D3","s":511,"i":6,"t":0.026,"x":92,"y":54},{"p":"D3","s":511,"i":7,"t":0.026,"x":102,"y":57},{"p":"D3","s":511,"i":8,"t":0.026,"x":102,"y":-1},
{"p":"D3","s":512,"i":0,"t":0.04,"x":58,"y":-1},{"p":"D3","s":512,"i":1,"t":0.04,"x":62,"y":8},{"p":"D3","s":512,"i":2,"t":0.04,"x":70,"y":14},{"p":"D3","s":512,"i":3,"t":0.04,"x":80,"y":18},{"p":"D3","s":512,"i":4,"t":0.04,"x":87,"y":26},{"p":"D3","s":512,"i":5,"t":0.04,"x":87,"y":42},{"p":"D3","s":512,"i":6,"t":0.04,"x":93,"y":48},{"p":"D3","s":512,"i":7,"t":0.04,"x":102,"y":52},{"p":"D3","s":512,"i":8,"t":0.04,"x":102,"y":-1},
{"p":"D3","s":513,"i":0,"t":0.052,"x":59,"y":-1},{"p":"D3","s":513,"i":1,"t":0.052,"x":64,"y":9},{"p":"D3","s":513,"i":2,"t":0.052,"x":72,"y":14},{"p":"D3","s":513,"i":3,"t":0.052,"x":82,"y":17},{"p":"D3","s":513,"i":4,"t":0.052,"x":89,"y":24},{"p":"D3","s":513,"i":5,"t":0.052,"x":90,"y":38},{"p":"D3","s":513,"i":6,"t":0.052,"x":96,"y":46},{"p":"D3","s":513,"i":7,"t":0.052,"x":102,"y":48},{"p":"D3","s":513,"i":8,"t":0.052,"x":102,"y":-1},
{"p":"D3","s":514,"i":0,"t":0.07,"x":63,"y":-1},{"p":"D3","s":514,"i":1,"t":0.07,"x":66,"y":6},{"p":"D3","s":514,"i":2,"t":0.07,"x":74,"y":13},{"p":"D3","s":514,"i":3,"t":0.07,"x":84,"y":15},{"p":"D3","s":514,"i":4,"t":0.07,"x":92,"y":12},{"p":"D3","s":514,"i":5,"t":0.07,"x":102,"y":10},{"p":"D3","s":514,"i":6,"t":0.07,"x":102,"y":-1},
{"p":"D3","s":515,"i":0,"t":0.08,"x":64,"y":1},{"p":"D3","s":515,"i":1,"t":0.08,"x":67,"y":9},{"p":"D3","s":515,"i":2,"t":0.08,"x":78,"y":14},{"p":"D3","s":515,"i":3,"t":0.08,"x":88,"y":12},{"p":"D3","s":515,"i":4,"t":0.08,"x":94,"y":6},{"p":"D3","s":515,"i":5,"t":0.08,"x":94,"y":-1},
{"p":"D3","s":516,"i":0,"t":0.1,"x":64,"y":2},{"p":"D3","s":516,"i":1,"t":0.1,"x":66,"y":9},{"p":"D3","s":516,"i":2,"t":0.1,"x":72,"y":12},{"p":"D3","s":516,"i":3,"t":0.1,"x":80,"y":15},{"p":"D3","s":516,"i":4,"t":0.1,"x":83,"y":11},{"p":"D3","s":516,"i":5,"t":0.1,"x":84,"y":2},{"p":"D3","s":516,"i":6,"t":0.1,"x":76,"y":-1},
{"p":"D3","s":517,"i":0,"t":0.112,"x":67,"y":1},{"p":"D3","s":517,"i":1,"t":0.112,"x":67,"y":11},{"p":"D3","s":517,"i":2,"t":0.112,"x":83,"y":11},{"p":"D3","s":517,"i":3,"t":0.112,"x":83,"y":1},
{"p":"D3","s":518,"i":0,"t":0.128,"x":68,"y":6},{"p":"D3","s":518,"i":1,"t":0.128,"x":71,"y":10},{"p":"D3","s":518,"i":2,"t":0.128,"x":76,"y":8.5},{"p":"D3","s":518,"i":3,"t":0.128,"x":73,"y":5.5},
{"p":"D3","s":519,"i":0,"t":0.145,"x":69.5,"y":7},{"p":"D3","s":519,"i":1,"t":0.145,"x":71.5,"y":9},{"p":"D3","s":519,"i":2,"t":0.145,"x":74,"y":8},{"p":"D3","s":519,"i":3,"t":0.145,"x":71.5,"y":6},
{"p":"D3","s":520,"i":0,"t":0.02,"x":0,"y":58},{"p":"D3","s":520,"i":1,"t":0.02,"x":0,"y":99},{"p":"D3","s":520,"i":2,"t":0.02,"x":1,"y":100},{"p":"D3","s":520,"i":3,"t":0.02,"x":31,"y":100},{"p":"D3","s":520,"i":4,"t":0.02,"x":32,"y":99},{"p":"D3","s":520,"i":5,"t":0.02,"x":32,"y":59},{"p":"D3","s":520,"i":6,"t":0.02,"x":31,"y":58},{"p":"D3","s":520,"i":7,"t":0.02,"x":1,"y":58},
{"p":"D3","s":521,"i":0,"t":0.03,"x":24,"y":66},{"p":"D3","s":521,"i":1,"t":0.03,"x":28,"y":68},{"p":"D3","s":521,"i":2,"t":0.03,"x":31,"y":64},{"p":"D3","s":521,"i":3,"t":0.03,"x":27,"y":63},
{"p":"D3","s":522,"i":0,"t":0.026,"x":-1,"y":86},{"p":"D3","s":522,"i":1,"t":0.026,"x":10,"y":87},{"p":"D3","s":522,"i":2,"t":0.026,"x":22,"y":84},{"p":"D3","s":522,"i":3,"t":0.026,"x":28,"y":76},{"p":"D3","s":522,"i":4,"t":0.026,"x":18,"y":70},{"p":"D3","s":522,"i":5,"t":0.026,"x":8,"y":66},{"p":"D3","s":522,"i":6,"t":0.026,"x":-1,"y":64},
{"p":"D3","s":523,"i":0,"t":0.036,"x":-1,"y":84},{"p":"D3","s":523,"i":1,"t":0.036,"x":8,"y":85},{"p":"D3","s":523,"i":2,"t":0.036,"x":16,"y":84},{"p":"D3","s":523,"i":3,"t":0.036,"x":14,"y":77},{"p":"D3","s":523,"i":4,"t":0.036,"x":6,"y":72},{"p":"D3","s":523,"i":5,"t":0.036,"x":-1,"y":66},
{"p":"D3","s":524,"i":0,"t":0.05,"x":-1,"y":83},{"p":"D3","s":524,"i":1,"t":0.05,"x":6,"y":84},{"p":"D3","s":524,"i":2,"t":0.05,"x":11,"y":82},{"p":"D3","s":524,"i":3,"t":0.05,"x":9,"y":77},{"p":"D3","s":524,"i":4,"t":0.05,"x":3,"y":72},{"p":"D3","s":524,"i":5,"t":0.05,"x":-1,"y":67},
{"p":"D3","s":525,"i":0,"t":0.07,"x":-1,"y":82},{"p":"D3","s":525,"i":1,"t":0.07,"x":3,"y":83},{"p":"D3","s":525,"i":2,"t":0.07,"x":7,"y":81},{"p":"D3","s":525,"i":3,"t":0.07,"x":5,"y":77},{"p":"D3","s":525,"i":4,"t":0.07,"x":1,"y":72},{"p":"D3","s":525,"i":5,"t":0.07,"x":-1,"y":68},
{"p":"D3","s":526,"i":0,"t":0.105,"x":-1,"y":79},{"p":"D3","s":526,"i":1,"t":0.105,"x":2,"y":81},{"p":"D3","s":526,"i":2,"t":0.105,"x":4,"y":79.5},{"p":"D3","s":526,"i":3,"t":0.105,"x":2,"y":75},{"p":"D3","s":526,"i":4,"t":0.105,"x":-0.5,"y":69},
{"p":"D3","s":527,"i":0,"t":0.14,"x":-0.2,"y":78},{"p":"D3","s":527,"i":1,"t":0.14,"x":1.5,"y":80},{"p":"D3","s":527,"i":2,"t":0.14,"x":1.5,"y":77.5},{"p":"D3","s":527,"i":3,"t":0.14,"x":0,"y":75},
{"p":"D3v","s":591,"i":0,"t":0.03,"x":56.3,"y":100},{"p":"D3v","s":591,"i":1,"t":0.03,"x":56.3,"y":103.2},{"p":"D3v","s":591,"i":2,"t":0.03,"x":67.1,"y":103.2},{"p":"D3v","s":591,"i":3,"t":0.03,"x":67.1,"y":100},
{"p":"D3v","s":592,"i":0,"t":0.085,"x":57.4,"y":0},{"p":"D3v","s":592,"i":1,"t":0.085,"x":68.3,"y":0},{"p":"D3v","s":592,"i":2,"t":0.085,"x":68.3,"y":-2.8},{"p":"D3v","s":592,"i":3,"t":0.085,"x":63,"y":-3.8},{"p":"D3v","s":592,"i":4,"t":0.085,"x":57.4,"y":-2.8},
{"p":"D3v","s":593,"i":0,"t":0.065,"x":100,"y":50},{"p":"D3v","s":593,"i":1,"t":0.065,"x":103.3,"y":50},{"p":"D3v","s":593,"i":2,"t":0.065,"x":103.3,"y":39.2},{"p":"D3v","s":593,"i":3,"t":0.065,"x":100,"y":39.2},
{"p":"D3v","s":594,"i":0,"t":0.1,"x":-3.2,"y":78.8},{"p":"D3v","s":594,"i":1,"t":0.1,"x":0,"y":78.8},{"p":"D3v","s":594,"i":2,"t":0.1,"x":0,"y":68},{"p":"D3v","s":594,"i":3,"t":0.1,"x":-3.2,"y":68},

{"p":"A3","s":601,"i":0,"t":0.003,"x":-5,"y":-5},{"p":"A3","s":601,"i":1,"t":0.003,"x":-5,"y":105},{"p":"A3","s":601,"i":2,"t":0.003,"x":105,"y":105},{"p":"A3","s":601,"i":3,"t":0.003,"x":105,"y":-5},
{"p":"A3","s":602,"i":0,"t":0.008,"x":33,"y":100},{"p":"A3","s":602,"i":1,"t":0.008,"x":100,"y":100},{"p":"A3","s":602,"i":2,"t":0.008,"x":101,"y":50},{"p":"A3","s":602,"i":3,"t":0.008,"x":93,"y":60},{"p":"A3","s":602,"i":4,"t":0.008,"x":88,"y":75},{"p":"A3","s":602,"i":5,"t":0.008,"x":70,"y":84},{"p":"A3","s":602,"i":6,"t":0.008,"x":50,"y":82},{"p":"A3","s":602,"i":7,"t":0.008,"x":33,"y":72},
{"p":"A3","s":603,"i":0,"t":0.013,"x":33,"y":72},{"p":"A3","s":603,"i":1,"t":0.013,"x":42,"y":68},{"p":"A3","s":603,"i":2,"t":0.013,"x":56,"y":58},{"p":"A3","s":603,"i":3,"t":0.013,"x":66,"y":50},{"p":"A3","s":603,"i":4,"t":0.013,"x":56,"y":44},{"p":"A3","s":603,"i":5,"t":0.013,"x":44,"y":48},{"p":"A3","s":603,"i":6,"t":0.013,"x":33,"y":56},
{"p":"A3","s":604,"i":0,"t":0.022,"x":33,"y":70},{"p":"A3","s":604,"i":1,"t":0.022,"x":37,"y":66},{"p":"A3","s":604,"i":2,"t":0.022,"x":41,"y":58},{"p":"A3","s":604,"i":3,"t":0.022,"x":38,"y":53},{"p":"A3","s":604,"i":4,"t":0.022,"x":33,"y":57},
{"p":"A3","s":605,"i":0,"t":0.015,"x":55,"y":101},{"p":"A3","s":605,"i":1,"t":0.015,"x":70,"y":101},{"p":"A3","s":605,"i":2,"t":0.015,"x":67,"y":93},{"p":"A3","s":605,"i":3,"t":0.015,"x":60,"y":90},{"p":"A3","s":605,"i":4,"t":0.015,"x":56,"y":93},
{"p":"A3","s":606,"i":0,"t":0.012,"x":53,"y":-1},{"p":"A3","s":606,"i":1,"t":0.012,"x":58,"y":8},{"p":"A3","s":606,"i":2,"t":0.012,"x":66,"y":18},{"p":"A3","s":606,"i":3,"t":0.012,"x":76,"y":24},{"p":"A3","s":606,"i":4,"t":0.012,"x":82,"y":32},{"p":"A3","s":606,"i":5,"t":0.012,"x":84,"y":50},{"p":"A3","s":606,"i":6,"t":0.012,"x":92,"y":60},{"p":"A3","s":606,"i":7,"t":0.012,"x":102,"y":66},{"p":"A3","s":606,"i":8,"t":0.012,"x":102,"y":-1},
{"p":"A3","s":607,"i":0,"t":0.024,"x":55,"y":-1},{"p":"A3","s":607,"i":1,"t":0.024,"x":60,"y":8},{"p":"A3","s":607,"i":2,"t":0.024,"x":68,"y":15},{"p":"A3","s":607,"i":3,"t":0.024,"x":80,"y":20},{"p":"A3","s":607,"i":4,"t":0.024,"x":85,"y":26},{"p":"A3","s":607,"i":5,"t":0.024,"x":87,"y":44},{"p":"A3","s":607,"i":6,"t":0.024,"x":93,"y":54},{"p":"A3","s":607,"i":7,"t":0.024,"x":102,"y":58},{"p":"A3","s":607,"i":8,"t":0.024,"x":102,"y":-1},
{"p":"A3","s":608,"i":0,"t":0.038,"x":56,"y":-1},{"p":"A3","s":608,"i":1,"t":0.038,"x":61,"y":6},{"p":"A3","s":608,"i":2,"t":0.038,"x":68,"y":14},{"p":"A3","s":608,"i":3,"t":0.038,"x":80,"y":18},{"p":"A3","s":608,"i":4,"t":0.038,"x":88,"y":24},{"p":"A3","s":608,"i":5,"t":0.038,"x":90,"y":42},{"p":"A3","s":608,"i":6,"t":0.038,"x":95,"y":50},{"p":"A3","s":608,"i":7,"t":0.038,"x":102,"y":52},{"p":"A3","s":608,"i":8,"t":0.038,"x":102,"y":-1},
{"p":"A3","s":609,"i":0,"t":0.045,"x":90,"y":-1},{"p":"A3","s":609,"i":1,"t":0.045,"x":91,"y":10},{"p":"A3","s":609,"i":2,"t":0.045,"x":92,"y":30},{"p":"A3","s":609,"i":3,"t":0.045,"x":94,"y":44},{"p":"A3","s":609,"i":4,"t":0.045,"x":102,"y":47},{"p":"A3","s":609,"i":5,"t":0.045,"x":102,"y":-1},
{"p":"A3","s":610,"i":0,"t":0.052,"x":57,"y":-1},{"p":"A3","s":610,"i":1,"t":0.052,"x":62,"y":6},{"p":"A3","s":610,"i":2,"t":0.052,"x":67,"y":13},{"p":"A3","s":610,"i":3,"t":0.052,"x":76,"y":16},{"p":"A3","s":610,"i":4,"t":0.052,"x":85,"y":17},{"p":"A3","s":610,"i":5,"t":0.052,"x":90,"y":11},{"p":"A3","s":610,"i":6,"t":0.052,"x":92,"y":-1},
{"p":"A3","s":611,"i":0,"t":0.068,"x":60,"y":-1},{"p":"A3","s":611,"i":1,"t":0.068,"x":64,"y":7},{"p":"A3","s":611,"i":2,"t":0.068,"x":69,"y":11},{"p":"A3","s":611,"i":3,"t":0.068,"x":78,"y":13},{"p":"A3","s":611,"i":4,"t":0.068,"x":86,"y":11},{"p":"A3","s":611,"i":5,"t":0.068,"x":88,"y":3},{"p":"A3","s":611,"i":6,"t":0.068,"x":86,"y":-1},
{"p":"A3","s":612,"i":0,"t":0.082,"x":62,"y":-1},{"p":"A3","s":612,"i":1,"t":0.082,"x":66,"y":6},{"p":"A3","s":612,"i":2,"t":0.082,"x":70,"y":10},{"p":"A3","s":612,"i":3,"t":0.082,"x":78,"y":9},{"p":"A3","s":612,"i":4,"t":0.082,"x":82,"y":2},{"p":"A3","s":612,"i":5,"t":0.082,"x":76,"y":-1},
{"p":"A3","s":613,"i":0,"t":0.1,"x":67,"y":6},{"p":"A3","s":613,"i":1,"t":0.1,"x":70,"y":9.5},{"p":"A3","s":613,"i":2,"t":0.1,"x":74,"y":9.5},{"p":"A3","s":613,"i":3,"t":0.1,"x":75,"y":7},{"p":"A3","s":613,"i":4,"t":0.1,"x":71,"y":6},
{"p":"A3","s":614,"i":0,"t":0.11,"x":69,"y":7},{"p":"A3","s":614,"i":1,"t":0.11,"x":71,"y":9},{"p":"A3","s":614,"i":2,"t":0.11,"x":73.5,"y":8.5},{"p":"A3","s":614,"i":3,"t":0.11,"x":72,"y":7},
{"p":"A3","s":620,"i":0,"t":0.02,"x":0,"y":58},{"p":"A3","s":620,"i":1,"t":0.02,"x":0,"y":99},{"p":"A3","s":620,"i":2,"t":0.02,"x":1,"y":100},{"p":"A3","s":620,"i":3,"t":0.02,"x":31,"y":100},{"p":"A3","s":620,"i":4,"t":0.02,"x":32,"y":99},{"p":"A3","s":620,"i":5,"t":0.02,"x":32,"y":59},{"p":"A3","s":620,"i":6,"t":0.02,"x":31,"y":58},{"p":"A3","s":620,"i":7,"t":0.02,"x":1,"y":58},
{"p":"A3","s":621,"i":0,"t":0.027,"x":24,"y":64},{"p":"A3","s":621,"i":1,"t":0.027,"x":27,"y":68},{"p":"A3","s":621,"i":2,"t":0.027,"x":31,"y":64},{"p":"A3","s":621,"i":3,"t":0.027,"x":27,"y":62},
{"p":"A3","s":622,"i":0,"t":0.026,"x":-1,"y":86},{"p":"A3","s":622,"i":1,"t":0.026,"x":10,"y":87},{"p":"A3","s":622,"i":2,"t":0.026,"x":22,"y":84},{"p":"A3","s":622,"i":3,"t":0.026,"x":26,"y":76},{"p":"A3","s":622,"i":4,"t":0.026,"x":16,"y":71},{"p":"A3","s":622,"i":5,"t":0.026,"x":8,"y":66},{"p":"A3","s":622,"i":6,"t":0.026,"x":-1,"y":64},
{"p":"A3","s":623,"i":0,"t":0.034,"x":-1,"y":84},{"p":"A3","s":623,"i":1,"t":0.034,"x":8,"y":85},{"p":"A3","s":623,"i":2,"t":0.034,"x":14,"y":82},{"p":"A3","s":623,"i":3,"t":0.034,"x":13,"y":77},{"p":"A3","s":623,"i":4,"t":0.034,"x":7,"y":72},{"p":"A3","s":623,"i":5,"t":0.034,"x":-1,"y":66},
{"p":"A3","s":624,"i":0,"t":0.05,"x":-1,"y":83},{"p":"A3","s":624,"i":1,"t":0.05,"x":5,"y":84},{"p":"A3","s":624,"i":2,"t":0.05,"x":8,"y":81},{"p":"A3","s":624,"i":3,"t":0.05,"x":7,"y":77},{"p":"A3","s":624,"i":4,"t":0.05,"x":2,"y":71},{"p":"A3","s":624,"i":5,"t":0.05,"x":-1,"y":66},
{"p":"A3","s":625,"i":0,"t":0.08,"x":-1,"y":82},{"p":"A3","s":625,"i":1,"t":0.08,"x":2,"y":81},{"p":"A3","s":625,"i":2,"t":0.08,"x":4,"y":80},{"p":"A3","s":625,"i":3,"t":0.08,"x":2,"y":76},{"p":"A3","s":625,"i":4,"t":0.08,"x":-1,"y":69},
{"p":"A3","s":626,"i":0,"t":0.105,"x":0,"y":80},{"p":"A3","s":626,"i":1,"t":0.105,"x":1.5,"y":80},{"p":"A3","s":626,"i":2,"t":0.105,"x":2.5,"y":78},{"p":"A3","s":626,"i":3,"t":0.105,"x":1,"y":76.5},
{"p":"A3v","s":691,"i":0,"t":0.028,"x":56.3,"y":100},{"p":"A3v","s":691,"i":1,"t":0.028,"x":56.3,"y":103},{"p":"A3v","s":691,"i":2,"t":0.028,"x":66.9,"y":103},{"p":"A3v","s":691,"i":3,"t":0.028,"x":66.9,"y":100},
{"p":"A3v","s":692,"i":0,"t":0.065,"x":57.3,"y":0},{"p":"A3v","s":692,"i":1,"t":0.065,"x":68.1,"y":0},{"p":"A3v","s":692,"i":2,"t":0.065,"x":68.1,"y":-2.6},{"p":"A3v","s":692,"i":3,"t":0.065,"x":63,"y":-3.4},{"p":"A3v","s":692,"i":4,"t":0.065,"x":57.3,"y":-2.6},
{"p":"A3v","s":693,"i":0,"t":0.058,"x":100,"y":50},{"p":"A3v","s":693,"i":1,"t":0.058,"x":103,"y":50},{"p":"A3v","s":693,"i":2,"t":0.058,"x":103,"y":39.6},{"p":"A3v","s":693,"i":3,"t":0.058,"x":100,"y":39.6},
{"p":"A3v","s":694,"i":0,"t":0.085,"x":-3.7,"y":79},{"p":"A3v","s":694,"i":1,"t":0.085,"x":0,"y":79},{"p":"A3v","s":694,"i":2,"t":0.085,"x":0,"y":68.3},{"p":"A3v","s":694,"i":3,"t":0.085,"x":-3.3,"y":68.3}
]},
"vconcat":[
{"hconcat":[
{"title":{"text":"Doha","font":"Liberation Sans","fontSize":60,"fontWeight":"normal","color":"#333333","offset":19},"width":1189,"height":1235,
"encoding":{"x":{"field":"x","type":"quantitative","axis":null,"scale":{"domain":[-9.6,104.2],"nice":false,"zero":false,"clamp":true}},"y":{"field":"y","type":"quantitative","axis":{"title":"10 degree fins","titleAngle":0,"titleAlign":"right","titleBaseline":"middle","titleX":-6,"titleY":1087,"titleFont":"Liberation Sans","titleFontSize":54,"titleFontWeight":"normal","titleColor":"#444444","labels":false,"ticks":false,"domain":false,"grid":false},"scale":{"domain":[-12.5,103.2],"nice":false,"zero":false,"clamp":true}}},
"layer":[
{"data":{"name":"c"},"transform":[{"filter":"datum.p=='D1'"}],"mark":{"type":"line","filled":true,"interpolate":"cardinal-closed","tension":0.5,"clip":true},"encoding":{"detail":{"field":"s","type":"nominal"},"order":{"field":"i","type":"quantitative"},"color":{"field":"t","type":"quantitative","scale":{"domain":[0,0.025,0.05,0.075,0.1,0.125,0.15,0.175,0.198],"range":["#0000ff","#0068ff","#00f0ff","#00ffa8","#00ee00","#40ee00","#e8ff00","#ffa000","#ff0000"]},"legend":{"orient":"none","legendX":-870,"legendY":2281,"direction":"vertical","gradientLength":1419,"gradientThickness":103,"values":[0,0.01,0.021,0.031,0.042,0.052,0.063,0.073,0.083,0.094,0.104,0.115,0.125,0.135,0.146,0.156,0.167,0.177,0.188,0.198],"format":".3f","labelFontSize":82,"labelFont":"Liberation Sans","labelColor":"#333333","labelOffset":42,"labelOverlap":false,"labelLimit":400,"title":"Turbulence Kinetic Energy","titleOrient":"bottom","titleAnchor":"start","titleFontSize":68,"titleFont":"Liberation Sans","titleFontWeight":"normal","titleColor":"#333333","titlePadding":130,"titleLimit":1000,"encode":{"labels":{"update":{"baseline":{"value":"middle"},"dy":{"value":15}}}}}}}},
{"data":{"name":"parts"},"transform":[{"filter":"datum.k=='mask'"}],"mark":{"type":"rect","fill":"white"},"encoding":{"x2":{"field":"x2"},"y2":{"field":"y2"}}},
{"data":{"name":"c"},"transform":[{"filter":"datum.p=='D1v'"}],"mark":{"type":"line","filled":true,"interpolate":"linear-closed"},"encoding":{"detail":{"field":"s","type":"nominal"},"order":{"field":"i","type":"quantitative"},"color":{"field":"t","type":"quantitative","scale":{"domain":[0,0.025,0.05,0.075,0.1,0.125,0.15,0.175,0.198],"range":["#0000ff","#0068ff","#00f0ff","#00ffa8","#00ee00","#40ee00","#e8ff00","#ffa000","#ff0000"]}}}},
{"data":{"name":"parts"},"transform":[{"filter":"datum.k=='frame'"}],"mark":{"type":"rect","filled":false,"stroke":"#dcdcdc","strokeWidth":5},"encoding":{"x2":{"field":"x2"},"y2":{"field":"y2"}}},
{"data":{"name":"parts"},"transform":[{"filter":"datum.k=='barw'&&datum.p=='D1'"}],"mark":{"type":"rect","fill":"white","stroke":"#bbbbbb","strokeWidth":2},"encoding":{"x2":{"field":"x2"},"y2":{"field":"y2"}}},
{"data":{"name":"parts"},"transform":[{"filter":"datum.k=='barb'&&datum.p=='D1'"}],"mark":{"type":"rect","fill":"black"},"encoding":{"x2":{"field":"x2"},"y2":{"field":"y2"}}},
{"data":{"name":"parts"},"transform":[{"filter":"datum.k=='box'&&datum.p=='D1'"}],"mark":{"type":"rect","filled":false,"stroke":"#0a2050","strokeWidth":3},"encoding":{"x2":{"field":"x2"},"y2":{"field":"y2"}}},
{"data":{"name":"parts"},"transform":[{"filter":"datum.k=='box2'&&datum.p=='D1'"}],"mark":{"type":"rect","filled":false,"stroke":"#000000","strokeWidth":7},"encoding":{"x2":{"field":"x2"},"y2":{"field":"y2"}}},
{"data":{"name":"door"},"mark":{"type":"line","stroke":"#999999","strokeWidth":2.5},"encoding":{"detail":{"field":"s","type":"nominal"},"order":{"field":"i","type":"quantitative"}}},
{"data":{"name":"text"},"transform":[{"filter":"datum.p=='D1'"}],"mark":{"type":"text","font":"Liberation Sans","fontSize":22,"fill":"#666666"},"encoding":{"text":{"field":"l"}}},
{"data":{"name":"letters"},"transform":[{"filter":"datum.p=='D1'"}],"mark":{"type":"text","font":"Liberation Serif","fontSize":100,"fill":"white"},"encoding":{"text":{"field":"l"}}}
]},
{"title":{"text":"Amman","font":"Liberation Sans","fontSize":60,"fontWeight":"normal","color":"#333333","offset":19,"dx":21},"width":1189,"height":1235,
"encoding":{"x":{"field":"x","type":"quantitative","axis":null,"scale":{"domain":[-9.55,104],"nice":false,"zero":false,"clamp":true}},"y":{"field":"y","type":"quantitative","axis":null,"scale":{"domain":[-12.5,103.2],"nice":false,"zero":false,"clamp":true}}},
"layer":[
{"data":{"name":"c"},"transform":[{"filter":"datum.p=='A1'"}],"mark":{"type":"line","filled":true,"interpolate":"cardinal-closed","tension":0.5,"clip":true},"encoding":{"detail":{"field":"s","type":"nominal"},"order":{"field":"i","type":"quantitative"},"color":{"field":"t","type":"quantitative","scale":{"domain":[0,0.025,0.05,0.075,0.1,0.125,0.15,0.175,0.198],"range":["#0000ff","#0068ff","#00f0ff","#00ffa8","#00ee00","#40ee00","#e8ff00","#ffa000","#ff0000"]}}}},
{"data":{"name":"parts"},"transform":[{"filter":"datum.k=='mask'"}],"mark":{"type":"rect","fill":"white"},"encoding":{"x2":{"field":"x2"},"y2":{"field":"y2"}}},
{"data":{"name":"c"},"transform":[{"filter":"datum.p=='A1v'"}],"mark":{"type":"line","filled":true,"interpolate":"linear-closed"},"encoding":{"detail":{"field":"s","type":"nominal"},"order":{"field":"i","type":"quantitative"},"color":{"field":"t","type":"quantitative","scale":{"domain":[0,0.025,0.05,0.075,0.1,0.125,0.15,0.175,0.198],"range":["#0000ff","#0068ff","#00f0ff","#00ffa8","#00ee00","#40ee00","#e8ff00","#ffa000","#ff0000"]}}}},
{"data":{"name":"parts"},"transform":[{"filter":"datum.k=='frame'"}],"mark":{"type":"rect","filled":false,"stroke":"#dcdcdc","strokeWidth":5},"encoding":{"x2":{"field":"x2"},"y2":{"field":"y2"}}},
{"data":{"name":"parts"},"transform":[{"filter":"datum.k=='barw'&&datum.p=='A1'"}],"mark":{"type":"rect","fill":"white","stroke":"#bbbbbb","strokeWidth":2},"encoding":{"x2":{"field":"x2"},"y2":{"field":"y2"}}},
{"data":{"name":"parts"},"transform":[{"filter":"datum.k=='barb'&&datum.p=='A1'"}],"mark":{"type":"rect","fill":"black"},"encoding":{"x2":{"field":"x2"},"y2":{"field":"y2"}}},
{"data":{"name":"door"},"mark":{"type":"line","stroke":"#999999","strokeWidth":2.5},"encoding":{"detail":{"field":"s","type":"nominal"},"order":{"field":"i","type":"quantitative"}}},
{"data":{"name":"text"},"transform":[{"filter":"datum.p=='A1'"}],"mark":{"type":"text","font":"Liberation Sans","fontSize":22,"fill":"#666666"},"encoding":{"text":{"field":"l"}}}
]}
]},
{"hconcat":[
{"width":1189,"height":1192,
"encoding":{"x":{"field":"x","type":"quantitative","axis":null,"scale":{"domain":[-10.3,104.8],"nice":false,"zero":false,"clamp":true}},"y":{"field":"y","type":"quantitative","axis":{"title":"40 degree fins","titleAngle":0,"titleAlign":"right","titleBaseline":"middle","titleX":-6,"titleY":1070,"titleFont":"Liberation Sans","titleFontSize":54,"titleFontWeight":"normal","titleColor":"#444444","labels":false,"ticks":false,"domain":false,"grid":false},"scale":{"domain":[-13.7,103.9],"nice":false,"zero":false,"clamp":true}}},
"layer":[
{"data":{"name":"c"},"transform":[{"filter":"datum.p=='D2'"}],"mark":{"type":"line","filled":true,"interpolate":"cardinal-closed","tension":0.5,"clip":true},"encoding":{"detail":{"field":"s","type":"nominal"},"order":{"field":"i","type":"quantitative"},"color":{"field":"t","type":"quantitative","scale":{"domain":[0,0.025,0.05,0.075,0.1,0.125,0.15,0.175,0.198],"range":["#0000ff","#0068ff","#00f0ff","#00ffa8","#00ee00","#40ee00","#e8ff00","#ffa000","#ff0000"]}}}},
{"data":{"name":"parts"},"transform":[{"filter":"datum.k=='mask'"}],"mark":{"type":"rect","fill":"white"},"encoding":{"x2":{"field":"x2"},"y2":{"field":"y2"}}},
{"data":{"name":"c"},"transform":[{"filter":"datum.p=='D2v'"}],"mark":{"type":"line","filled":true,"interpolate":"linear-closed"},"encoding":{"detail":{"field":"s","type":"nominal"},"order":{"field":"i","type":"quantitative"},"color":{"field":"t","type":"quantitative","scale":{"domain":[0,0.025,0.05,0.075,0.1,0.125,0.15,0.175,0.198],"range":["#0000ff","#0068ff","#00f0ff","#00ffa8","#00ee00","#40ee00","#e8ff00","#ffa000","#ff0000"]}}}},
{"data":{"name":"parts"},"transform":[{"filter":"datum.k=='frame'"}],"mark":{"type":"rect","filled":false,"stroke":"#dcdcdc","strokeWidth":5},"encoding":{"x2":{"field":"x2"},"y2":{"field":"y2"}}},
{"data":{"name":"parts"},"transform":[{"filter":"datum.k=='barw'&&datum.p=='D2'"}],"mark":{"type":"rect","fill":"white","stroke":"#bbbbbb","strokeWidth":2},"encoding":{"x2":{"field":"x2"},"y2":{"field":"y2"}}},
{"data":{"name":"parts"},"transform":[{"filter":"datum.k=='barb'&&datum.p=='D2'"}],"mark":{"type":"rect","fill":"black"},"encoding":{"x2":{"field":"x2"},"y2":{"field":"y2"}}},
{"data":{"name":"parts"},"transform":[{"filter":"datum.k=='box'&&datum.p=='D2'"}],"mark":{"type":"rect","filled":false,"stroke":"#0a2050","strokeWidth":3},"encoding":{"x2":{"field":"x2"},"y2":{"field":"y2"}}},
{"data":{"name":"parts"},"transform":[{"filter":"datum.k=='box2'&&datum.p=='D2'"}],"mark":{"type":"rect","filled":false,"stroke":"#000000","strokeWidth":7},"encoding":{"x2":{"field":"x2"},"y2":{"field":"y2"}}},
{"data":{"name":"door"},"mark":{"type":"line","stroke":"#999999","strokeWidth":2.5},"encoding":{"detail":{"field":"s","type":"nominal"},"order":{"field":"i","type":"quantitative"}}},
{"data":{"name":"text"},"transform":[{"filter":"datum.p=='D2'"}],"mark":{"type":"text","font":"Liberation Sans","fontSize":22,"fill":"#666666"},"encoding":{"text":{"field":"l"}}},
{"data":{"name":"letters"},"transform":[{"filter":"datum.p=='D2'"}],"mark":{"type":"text","font":"Liberation Serif","fontSize":100,"fill":"white"},"encoding":{"text":{"field":"l"}}}
]},
{"width":1189,"height":1192,
"encoding":{"x":{"field":"x","type":"quantitative","axis":null,"scale":{"domain":[-10.1,105],"nice":false,"zero":false,"clamp":true}},"y":{"field":"y","type":"quantitative","axis":null,"scale":{"domain":[-14.3,103.4],"nice":false,"zero":false,"clamp":true}}},
"layer":[
{"data":{"name":"c"},"transform":[{"filter":"datum.p=='A2'"}],"mark":{"type":"line","filled":true,"interpolate":"cardinal-closed","tension":0.5,"clip":true},"encoding":{"detail":{"field":"s","type":"nominal"},"order":{"field":"i","type":"quantitative"},"color":{"field":"t","type":"quantitative","scale":{"domain":[0,0.025,0.05,0.075,0.1,0.125,0.15,0.175,0.198],"range":["#0000ff","#0068ff","#00f0ff","#00ffa8","#00ee00","#40ee00","#e8ff00","#ffa000","#ff0000"]}}}},
{"data":{"name":"parts"},"transform":[{"filter":"datum.k=='mask'"}],"mark":{"type":"rect","fill":"white"},"encoding":{"x2":{"field":"x2"},"y2":{"field":"y2"}}},
{"data":{"name":"c"},"transform":[{"filter":"datum.p=='A2v'"}],"mark":{"type":"line","filled":true,"interpolate":"linear-closed"},"encoding":{"detail":{"field":"s","type":"nominal"},"order":{"field":"i","type":"quantitative"},"color":{"field":"t","type":"quantitative","scale":{"domain":[0,0.025,0.05,0.075,0.1,0.125,0.15,0.175,0.198],"range":["#0000ff","#0068ff","#00f0ff","#00ffa8","#00ee00","#40ee00","#e8ff00","#ffa000","#ff0000"]}}}},
{"data":{"name":"parts"},"transform":[{"filter":"datum.k=='frame'"}],"mark":{"type":"rect","filled":false,"stroke":"#dcdcdc","strokeWidth":5},"encoding":{"x2":{"field":"x2"},"y2":{"field":"y2"}}},
{"data":{"name":"parts"},"transform":[{"filter":"datum.k=='barw'&&datum.p=='A2'"}],"mark":{"type":"rect","fill":"white","stroke":"#bbbbbb","strokeWidth":2},"encoding":{"x2":{"field":"x2"},"y2":{"field":"y2"}}},
{"data":{"name":"parts"},"transform":[{"filter":"datum.k=='barb'&&datum.p=='A2'"}],"mark":{"type":"rect","fill":"black"},"encoding":{"x2":{"field":"x2"},"y2":{"field":"y2"}}},
{"data":{"name":"door"},"mark":{"type":"line","stroke":"#999999","strokeWidth":2.5},"encoding":{"detail":{"field":"s","type":"nominal"},"order":{"field":"i","type":"quantitative"}}},
{"data":{"name":"text"},"transform":[{"filter":"datum.p=='A2'"}],"mark":{"type":"text","font":"Liberation Sans","fontSize":22,"fill":"#666666"},"encoding":{"text":{"field":"l"}}}
]}
]},
{"hconcat":[
{"width":1189,"height":1230,
"encoding":{"x":{"field":"x","type":"quantitative","axis":{"title":"m²/s²","titleFont":"Liberation Serif","titleFontSize":100,"titleFontWeight":"normal","titleColor":"#222222","titleX":-728,"titleY":-83,"titleAlign":"center","titleBaseline":"alphabetic","labels":false,"ticks":false,"domain":false,"grid":false},"scale":{"domain":[-9.9,104.2],"nice":false,"zero":false,"clamp":true}},"y":{"field":"y","type":"quantitative","axis":{"title":"80 degree fins","titleAngle":0,"titleAlign":"right","titleBaseline":"middle","titleX":-6,"titleY":1112,"titleFont":"Liberation Sans","titleFontSize":54,"titleFontWeight":"normal","titleColor":"#444444","labels":false,"ticks":false,"domain":false,"grid":false},"scale":{"domain":[-13.6,104.1],"nice":false,"zero":false,"clamp":true}}},
"layer":[
{"data":{"name":"c"},"transform":[{"filter":"datum.p=='D3'"}],"mark":{"type":"line","filled":true,"interpolate":"cardinal-closed","tension":0.5,"clip":true},"encoding":{"detail":{"field":"s","type":"nominal"},"order":{"field":"i","type":"quantitative"},"color":{"field":"t","type":"quantitative","scale":{"domain":[0,0.025,0.05,0.075,0.1,0.125,0.15,0.175,0.198],"range":["#0000ff","#0068ff","#00f0ff","#00ffa8","#00ee00","#40ee00","#e8ff00","#ffa000","#ff0000"]}}}},
{"data":{"name":"parts"},"transform":[{"filter":"datum.k=='mask'"}],"mark":{"type":"rect","fill":"white"},"encoding":{"x2":{"field":"x2"},"y2":{"field":"y2"}}},
{"data":{"name":"c"},"transform":[{"filter":"datum.p=='D3v'"}],"mark":{"type":"line","filled":true,"interpolate":"linear-closed"},"encoding":{"detail":{"field":"s","type":"nominal"},"order":{"field":"i","type":"quantitative"},"color":{"field":"t","type":"quantitative","scale":{"domain":[0,0.025,0.05,0.075,0.1,0.125,0.15,0.175,0.198],"range":["#0000ff","#0068ff","#00f0ff","#00ffa8","#00ee00","#40ee00","#e8ff00","#ffa000","#ff0000"]}}}},
{"data":{"name":"parts"},"transform":[{"filter":"datum.k=='frame'"}],"mark":{"type":"rect","filled":false,"stroke":"#dcdcdc","strokeWidth":5},"encoding":{"x2":{"field":"x2"},"y2":{"field":"y2"}}},
{"data":{"name":"parts"},"transform":[{"filter":"datum.k=='barw'&&datum.p=='D3'"}],"mark":{"type":"rect","fill":"white","stroke":"#bbbbbb","strokeWidth":2},"encoding":{"x2":{"field":"x2"},"y2":{"field":"y2"}}},
{"data":{"name":"parts"},"transform":[{"filter":"datum.k=='barb'&&datum.p=='D3'"}],"mark":{"type":"rect","fill":"black"},"encoding":{"x2":{"field":"x2"},"y2":{"field":"y2"}}},
{"data":{"name":"parts"},"transform":[{"filter":"datum.k=='box'&&datum.p=='D3'"}],"mark":{"type":"rect","filled":false,"stroke":"#0a2050","strokeWidth":3},"encoding":{"x2":{"field":"x2"},"y2":{"field":"y2"}}},
{"data":{"name":"parts"},"transform":[{"filter":"datum.k=='box2'&&datum.p=='D3'"}],"mark":{"type":"rect","filled":false,"stroke":"#000000","strokeWidth":7},"encoding":{"x2":{"field":"x2"},"y2":{"field":"y2"}}},
{"data":{"name":"door"},"mark":{"type":"line","stroke":"#999999","strokeWidth":2.5},"encoding":{"detail":{"field":"s","type":"nominal"},"order":{"field":"i","type":"quantitative"}}},
{"data":{"name":"text"},"transform":[{"filter":"datum.p=='D3'"}],"mark":{"type":"text","font":"Liberation Sans","fontSize":22,"fill":"#666666"},"encoding":{"text":{"field":"l"}}},
{"data":{"name":"letters"},"transform":[{"filter":"datum.p=='D3'"}],"mark":{"type":"text","font":"Liberation Serif","fontSize":100,"fill":"white"},"encoding":{"text":{"field":"l"}}}
]},
{"width":1189,"height":1230,
"encoding":{"x":{"field":"x","type":"quantitative","axis":null,"scale":{"domain":[-9.55,104],"nice":false,"zero":false,"clamp":true}},"y":{"field":"y","type":"quantitative","axis":null,"scale":{"domain":[-13.7,103.5],"nice":false,"zero":false,"clamp":true}}},
"layer":[
{"data":{"name":"c"},"transform":[{"filter":"datum.p=='A3'"}],"mark":{"type":"line","filled":true,"interpolate":"cardinal-closed","tension":0.5,"clip":true},"encoding":{"detail":{"field":"s","type":"nominal"},"order":{"field":"i","type":"quantitative"},"color":{"field":"t","type":"quantitative","scale":{"domain":[0,0.025,0.05,0.075,0.1,0.125,0.15,0.175,0.198],"range":["#0000ff","#0068ff","#00f0ff","#00ffa8","#00ee00","#40ee00","#e8ff00","#ffa000","#ff0000"]}}}},
{"data":{"name":"parts"},"transform":[{"filter":"datum.k=='mask'"}],"mark":{"type":"rect","fill":"white"},"encoding":{"x2":{"field":"x2"},"y2":{"field":"y2"}}},
{"data":{"name":"c"},"transform":[{"filter":"datum.p=='A3v'"}],"mark":{"type":"line","filled":true,"interpolate":"linear-closed"},"encoding":{"detail":{"field":"s","type":"nominal"},"order":{"field":"i","type":"quantitative"},"color":{"field":"t","type":"quantitative","scale":{"domain":[0,0.025,0.05,0.075,0.1,0.125,0.15,0.175,0.198],"range":["#0000ff","#0068ff","#00f0ff","#00ffa8","#00ee00","#40ee00","#e8ff00","#ffa000","#ff0000"]}}}},
{"data":{"name":"parts"},"transform":[{"filter":"datum.k=='frame'"}],"mark":{"type":"rect","filled":false,"stroke":"#dcdcdc","strokeWidth":5},"encoding":{"x2":{"field":"x2"},"y2":{"field":"y2"}}},
{"data":{"name":"parts"},"transform":[{"filter":"datum.k=='barw'&&datum.p=='A3'"}],"mark":{"type":"rect","fill":"white","stroke":"#bbbbbb","strokeWidth":2},"encoding":{"x2":{"field":"x2"},"y2":{"field":"y2"}}},
{"data":{"name":"parts"},"transform":[{"filter":"datum.k=='barb'&&datum.p=='A3'"}],"mark":{"type":"rect","fill":"black"},"encoding":{"x2":{"field":"x2"},"y2":{"field":"y2"}}},
{"data":{"name":"door"},"mark":{"type":"line","stroke":"#999999","strokeWidth":2.5},"encoding":{"detail":{"field":"s","type":"nominal"},"order":{"field":"i","type":"quantitative"}}},
{"data":{"name":"text"},"transform":[{"filter":"datum.p=='A3'"}],"mark":{"type":"text","font":"Liberation Sans","fontSize":22,"fill":"#666666"},"encoding":{"text":{"field":"l"}}}
]}
]}
],
"spacing":141,
"resolve":{"scale":{"color":"shared"}}
}
